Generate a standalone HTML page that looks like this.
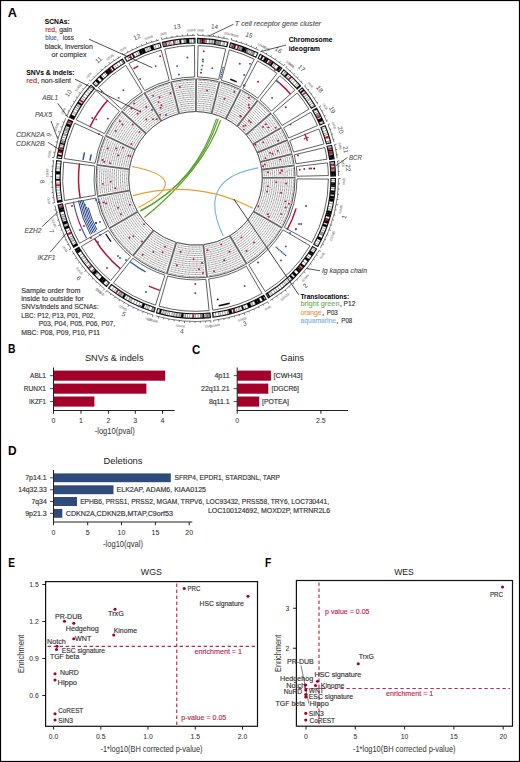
<!DOCTYPE html>
<html><head><meta charset="utf-8"><style>
html,body{margin:0;padding:0;background:#fff;}
svg{display:block;font-family:"Liberation Sans",sans-serif;}
</style></head><body>
<svg width="520" height="762" viewBox="0 0 520 762">
<rect x="0" y="0" width="520" height="762" fill="#fff"/>
<path d="M338.6 178.5A143.1 143.1 0 0 1 320.49 248.07M319.16 250.41A143.1 143.1 0 0 1 270.05 300.55M267.73 301.93A143.1 143.1 0 0 1 213.44 320.37M210.76 320.68A143.1 143.1 0 0 1 155.6 315.82M153.01 315.05A143.1 143.1 0 0 1 106.63 290.56M104.53 288.87A143.1 143.1 0 0 1 72.27 251.15M70.92 248.81A143.1 143.1 0 0 1 54.98 205.46M54.5 202.8A143.1 143.1 0 0 1 53.55 160.3M53.92 157.63A143.1 143.1 0 0 1 65.63 118.31M66.78 115.87A143.1 143.1 0 0 1 88.71 83.15M90.52 81.15A143.1 143.1 0 0 1 120.88 56.3M123.19 54.91A143.1 143.1 0 0 1 159.12 40M161.74 39.34A143.1 143.1 0 0 1 195 35.3M197.69 35.32A143.1 143.1 0 0 1 228.68 39.2M231.3 39.85A143.1 143.1 0 0 1 259.26 50.29M261.66 51.51A143.1 143.1 0 0 1 283.77 65.76M285.87 67.45A143.1 143.1 0 0 1 302.91 83.85M304.67 85.89A143.1 143.1 0 0 1 317.95 104.35M319.32 106.67A143.1 143.1 0 0 1 327.05 122.07M328.09 124.56A143.1 143.1 0 0 1 333.89 141.98M334.55 144.6A143.1 143.1 0 0 1 337.19 158.37M337.54 161.05A143.1 143.1 0 0 1 338.58 175.96" fill="none" stroke="#222" stroke-width="0.6"/>
<path d="M338.6 178.5L340.6 178.5M338.5 183.74L339.9 183.8M338.21 188.98L339.6 189.08M337.72 194.2L339.12 194.36M337.05 199.4L338.44 199.61M336.19 204.58L338.15 204.94M335.13 209.71L336.5 210.02M333.89 214.81L335.24 215.17M332.46 219.86L333.8 220.26M330.85 224.85L332.18 225.3M329.06 229.78L330.93 230.49M327.09 234.64L328.37 235.19M324.94 239.42L326.2 240.02M322.62 244.12L323.86 244.76M319.16 250.41L320.89 251.42M316.44 254.9L317.62 255.65M313.55 259.28L314.71 260.07M310.51 263.55L311.63 264.38M307.31 267.71L308.41 268.58M303.96 271.74L305.48 273.05M300.47 275.66L301.5 276.61M296.84 279.44L297.83 280.43M293.07 283.08L294.02 284.11M289.17 286.59L290.08 287.65M285.14 289.95L286.39 291.51M280.99 293.16L281.83 294.28M276.73 296.21L277.52 297.36M272.36 299.11L273.11 300.29M267.73 301.93L268.74 303.66M263.16 304.5L263.82 305.73M258.49 306.89L259.11 308.15M253.74 309.11L254.31 310.39M248.91 311.16L249.43 312.46M244.01 313.03L244.69 314.91M239.05 314.71L239.47 316.05M234.02 316.22L234.4 317.57M228.95 317.54L229.27 318.9M223.82 318.67L224.1 320.04M218.67 319.61L218.99 321.59M213.48 320.37L213.65 321.76M210.76 320.68L210.97 322.67M205.54 321.15L205.63 322.54M200.3 321.42L200.34 322.82M195.05 321.5L195.05 322.9M189.81 321.39L189.75 322.79M184.57 321.08L184.42 323.08M179.35 320.59L179.2 321.98M174.15 319.9L173.95 321.28M168.98 319.02L168.72 320.4M163.85 317.96L163.54 319.32M158.76 316.7L158.24 318.64M153.01 315.05L152.42 316.96M148.03 313.4L147.57 314.72M143.12 311.57L142.61 312.87M138.28 309.56L137.72 310.84M133.51 307.37L132.9 308.64M128.82 305.02L127.89 306.79M124.23 302.49L123.53 303.7M119.73 299.79L118.99 300.98M115.33 296.94L114.55 298.09M111.04 293.92L110.22 295.05M106.87 290.75L105.63 292.32M104.53 288.87L103.26 290.41M100.55 285.46L99.62 286.51M96.69 281.91L95.72 282.92M92.96 278.22L91.96 279.19M89.37 274.39L88.33 275.33M85.93 270.44L84.4 271.73M82.63 266.36L81.52 267.22M79.48 262.17L78.35 262.99M76.49 257.86L75.32 258.64M73.66 253.45L72.46 254.18M70.92 248.81L69.18 249.8M68.42 244.2L67.18 244.84M66.1 239.5L64.83 240.1M63.95 234.72L62.66 235.27M61.97 229.86L60.67 230.36M60.18 224.93L58.28 225.58M58.56 219.94L57.22 220.35M57.13 214.89L55.78 215.25M55.89 209.8L54.52 210.11M54.5 202.8L52.53 203.14M53.7 197.62L52.31 197.81M53.09 192.41L51.69 192.55M52.67 187.18L51.27 187.27M52.44 181.94L51.04 181.98M52.41 176.7L50.41 176.67M52.57 171.46L51.17 171.39M52.92 166.22L51.52 166.1M53.46 161.01L52.07 160.84M53.92 157.63L51.94 157.34M54.77 152.45L53.39 152.2M55.82 147.31L54.45 147.01M57.05 142.22L55.7 141.86M58.47 137.17L57.13 136.76M60.07 132.17L58.18 131.53M61.86 127.24L60.55 126.74M63.82 122.38L62.53 121.83M66.78 115.87L64.98 115M69.16 111.2L67.93 110.54M71.71 106.61L70.5 105.91M74.42 102.13L73.24 101.38M77.3 97.74L76.14 96.95M80.33 93.46L78.72 92.28M83.52 89.3L82.43 88.43M86.86 85.26L85.8 84.34M90.52 81.15L89.05 79.79M94.15 77.37L93.16 76.38M97.92 73.73L96.97 72.7M101.83 70.22L100.91 69.16M105.85 66.86L104.98 65.77M110 63.65L108.8 62.05M114.26 60.59L113.47 59.44M118.63 57.7L117.88 56.52M123.19 54.91L122.18 53.19M127.77 52.34L127.1 51.11M132.43 49.95L131.81 48.69M137.18 47.72L136.61 46.44M142.01 45.67L141.49 44.38M146.91 43.8L146.23 41.92M151.87 42.11L151.45 40.78M156.9 40.61L156.52 39.26M161.74 39.34L161.27 37.4M166.86 38.2L166.58 36.82M172.01 37.24L171.79 35.86M177.2 36.47L177.02 35.09M182.42 35.9L182.29 34.51M187.65 35.52L187.54 33.52M192.89 35.32L192.86 33.92M197.69 35.32L197.72 33.32M202.93 35.49L203.01 34.1M208.17 35.86L208.29 34.47M213.38 36.42L213.56 35.03M218.57 37.17L218.8 35.79M223.73 38.11L224.13 36.15M231.3 39.85L231.8 37.91M236.36 41.26L236.75 39.91M241.35 42.85L241.8 41.52M246.29 44.62L246.79 43.31M251.16 46.57L251.7 45.28M255.95 48.7L256.8 46.88M261.66 51.51L262.58 49.74M266.26 54.02L266.96 52.8M270.77 56.7L271.51 55.51M275.18 59.54L275.96 58.37M279.48 62.54L280.31 61.4M283.67 65.69L284.91 64.12M285.87 67.45L287.14 65.9M289.88 70.83L290.8 69.78M293.76 74.36L294.72 73.35M297.5 78.04L298.5 77.05M301.11 81.84L302.15 80.9M304.67 85.89L306.2 84.59M307.99 89.95L309.09 89.08M311.16 94.13L312.29 93.31M314.17 98.43L315.33 97.64M317.02 102.83L318.21 102.09M319.32 106.67L321.05 105.67M321.87 111.25L323.11 110.6M324.24 115.93L325.5 115.32M326.45 120.69L327.73 120.13M328.09 124.56L329.94 123.81M329.97 129.45L331.28 128.97M331.67 134.41L333 133.98M333.19 139.43L334.54 139.05M334.55 144.6L336.49 144.12M335.7 149.71L337.07 149.43M336.65 154.87L338.03 154.64M337.54 161.05L339.53 160.8M338.08 166.26L339.48 166.14M338.43 171.5L339.83 171.43" fill="none" stroke="#222" stroke-width="0.6"/>
<g font-size="3.4" fill="#6a6a6a"><text transform="translate(345.1 178.5) rotate(270.04)" x="0.6" text-anchor="end">0MB</text><text transform="translate(342.58 205.77) rotate(280.54)" x="0.6" text-anchor="end">50MB</text><text transform="translate(335.13 232.11) rotate(291.04)" x="0.6" text-anchor="end">100MB</text><text transform="translate(324.78 253.69) rotate(300.21)" x="0.6" text-anchor="end">0MB</text><text transform="translate(308.89 275.98) rotate(310.71)" x="0.6" text-anchor="end">50MB</text><text transform="translate(289.21 295.01) rotate(321.21)" x="0.6" text-anchor="end">100MB</text><text transform="translate(271.01 307.54) rotate(329.68)" x="0.6" text-anchor="end">0MB</text><text transform="translate(246.22 319.14) rotate(340.18)" x="0.6" text-anchor="end">50MB</text><text transform="translate(219.72 326.03) rotate(350.68)" x="0.6" text-anchor="end">100MB</text><text transform="translate(211.45 327.15) rotate(353.88)" x="0.6" text-anchor="end">0MB</text><text transform="translate(184.08 327.56) rotate(364.38)" x="0.6" text-anchor="end">50MB</text><text transform="translate(157.09 322.98) rotate(374.88)" x="0.6" text-anchor="end">100MB</text><text transform="translate(151.08 321.25) rotate(377.27)" x="0.6" text-anchor="end">0MB</text><text transform="translate(125.79 310.77) rotate(387.77)" x="0.6" text-anchor="end">50MB</text><text transform="translate(102.84 295.85) rotate(398.27)" x="0.6" text-anchor="end">100MB</text><text transform="translate(100.4 293.88) rotate(399.47)" x="0.6" text-anchor="end">0MB</text><text transform="translate(80.95 274.62) rotate(409.97)" x="0.6" text-anchor="end">50MB</text><text transform="translate(65.26 252.01) rotate(420.53)" x="0.6" text-anchor="end">0MB</text><text transform="translate(54.03 227.04) rotate(431.03)" x="0.6" text-anchor="end">50MB</text><text transform="translate(48.09 203.91) rotate(440.18)" x="0.6" text-anchor="end">0MB</text><text transform="translate(48.51 176.65) rotate(270.68)" x="-0.6">50MB</text><text transform="translate(50.06 157.06) rotate(278.35)" x="-0.6">0MB</text><text transform="translate(56.38 130.91) rotate(288.85)" x="-0.6">50MB</text><text transform="translate(63.28 114.17) rotate(295.91)" x="-0.6">0MB</text><text transform="translate(77.2 91.15) rotate(306.41)" x="-0.6">50MB</text><text transform="translate(87.66 78.5) rotate(312.81)" x="-0.6">0MB</text><text transform="translate(107.67 60.52) rotate(323.31)" x="-0.6">50MB</text><text transform="translate(121.22 51.55) rotate(329.65)" x="-0.6">0MB</text><text transform="translate(145.58 40.13) rotate(340.15)" x="-0.6">50MB</text><text transform="translate(160.82 35.55) rotate(346.35)" x="-0.6">0MB</text><text transform="translate(187.43 31.62) rotate(356.85)" x="-0.6">50MB</text><text transform="translate(197.75 31.42) rotate(0.88)" x="-0.6">0MB</text><text transform="translate(224.5 34.29) rotate(11.38)" x="-0.6">50MB</text><text transform="translate(232.28 36.08) rotate(14.49)" x="-0.6">0MB</text><text transform="translate(257.6 45.16) rotate(24.99)" x="-0.6">50MB</text><text transform="translate(263.46 48.05) rotate(27.54)" x="-0.6">0MB</text><text transform="translate(286.08 62.62) rotate(38.04)" x="-0.6">50MB</text><text transform="translate(288.34 64.42) rotate(39.16)" x="-0.6">0MB</text><text transform="translate(307.65 83.37) rotate(49.72)" x="-0.6">0MB</text><text transform="translate(322.7 104.71) rotate(59.92)" x="-0.6">0MB</text><text transform="translate(331.7 123.09) rotate(67.9)" x="-0.6">0MB</text><text transform="translate(338.34 143.67) rotate(76.34)" x="-0.6">0MB</text><text transform="translate(341.42 160.57) rotate(83.03)" x="-0.6">0MB</text></g>
<g font-size="6.4" fill="#4a4a4a"><text transform="translate(346.08 217.59) rotate(284.59)" text-anchor="middle">1</text><text transform="translate(306.65 287.29) rotate(314.41)" text-anchor="middle">2</text><text transform="translate(245.54 325.73) rotate(341.24)" text-anchor="middle">3</text><text transform="translate(181.84 333.4) rotate(365.04)" text-anchor="middle">4</text><text transform="translate(122.86 316) rotate(387.83)" text-anchor="middle">5</text><text transform="translate(77.26 279.54) rotate(409.46)" text-anchor="middle">6</text><text transform="translate(49.46 232.09) rotate(429.81)" text-anchor="middle">7</text><text transform="translate(39.94 181.87) rotate(448.72)" text-anchor="middle">8</text><text transform="translate(50.98 135.35) rotate(286.59)" text-anchor="middle">9</text><text transform="translate(70.22 94.47) rotate(303.82)" text-anchor="middle">10</text><text transform="translate(99.97 61.72) rotate(320.69)" text-anchor="middle">11</text><text transform="translate(137.7 39.12) rotate(337.46)" text-anchor="middle">12</text><text transform="translate(177.32 28.7) rotate(353.08)" text-anchor="middle">13</text><text transform="translate(214.25 28.77) rotate(7.14)" text-anchor="middle">14</text><text transform="translate(248.24 37.12) rotate(20.47)" text-anchor="middle">15</text><text transform="translate(277.21 51.66) rotate(32.81)" text-anchor="middle">16</text><text transform="translate(300.07 69.75) rotate(43.9)" text-anchor="middle">17</text><text transform="translate(317.93 90.36) rotate(54.28)" text-anchor="middle">18</text><text transform="translate(330.3 110.8) rotate(63.37)" text-anchor="middle">19</text><text transform="translate(338.57 130.74) rotate(71.58)" text-anchor="middle">20</text><text transform="translate(343.6 150) rotate(79.15)" text-anchor="middle">21</text><text transform="translate(345.94 167.96) rotate(86.03)" text-anchor="middle">22</text></g>
<path d="M335.44 182.5A140 140 0 0 1 335.39 183.98L330.79 183.79A135.4 135.4 0 0 0 330.84 182.37Z" fill="#000"/><path d="M335.39 183.98A140 140 0 0 1 335.32 185.49L330.73 185.26A135.4 135.4 0 0 0 330.79 183.79Z" fill="#000"/><path d="M335.32 185.49A140 140 0 0 1 335.24 186.94L330.65 186.66A135.4 135.4 0 0 0 330.73 185.26Z" fill="#000"/><path d="M334.95 190.81A140 140 0 0 1 334.78 192.58L330.2 192.12A135.4 135.4 0 0 0 330.37 190.4Z" fill="#000"/><path d="M334.78 192.58A140 140 0 0 1 334.55 194.69L329.98 194.16A135.4 135.4 0 0 0 330.2 192.12Z" fill="#000"/><path d="M334.36 196.25A140 140 0 0 1 334.02 198.73L329.47 198.06A135.4 135.4 0 0 0 329.79 195.66Z" fill="#000"/><path d="M334.02 198.73A140 140 0 0 1 333.54 201.77L329 201A135.4 135.4 0 0 0 329.47 198.06Z" fill="#000"/><path d="M331.57 211.36A140 140 0 0 1 331 213.62L326.55 212.46A135.4 135.4 0 0 0 327.1 210.27Z" fill="#000"/><path d="M331 213.62A140 140 0 0 1 330.5 215.46L326.07 214.25A135.4 135.4 0 0 0 326.55 212.46Z" fill="#000"/><path d="M330.5 215.46A140 140 0 0 1 330.05 217.08L325.63 215.81A135.4 135.4 0 0 0 326.07 214.25Z" fill="#000"/><path d="M329.37 219.37A140 140 0 0 1 328.76 221.3L324.39 219.89A135.4 135.4 0 0 0 324.97 218.02Z" fill="#000"/><path d="M328.76 221.3A140 140 0 0 1 327.93 223.82L323.58 222.32A135.4 135.4 0 0 0 324.39 219.89Z" fill="#000"/><path d="M327.45 225.19A140 140 0 0 1 326.68 227.31L322.37 225.7A135.4 135.4 0 0 0 323.11 223.65Z" fill="#000"/><path d="M324.33 233.19A140 140 0 0 1 323.21 235.75L319.02 233.87A135.4 135.4 0 0 0 320.1 231.39Z" fill="#999"/><path d="M322.05 238.27A140 140 0 0 1 321.01 240.43L316.89 238.39A135.4 135.4 0 0 0 317.89 236.3Z" fill="#000"/><path d="M313.98 252.98A140 140 0 0 1 312.84 254.77L308.98 252.26A135.4 135.4 0 0 0 310.09 250.53Z" fill="#000"/><path d="M312.84 254.77A140 140 0 0 1 312.02 256.01L308.19 253.46A135.4 135.4 0 0 0 308.98 252.26Z" fill="#000"/><path d="M309.55 259.6A140 140 0 0 1 308.12 261.57L304.42 258.84A135.4 135.4 0 0 0 305.8 256.93Z" fill="#000"/><path d="M304.65 266.07A140 140 0 0 1 303.25 267.79L299.71 264.85A135.4 135.4 0 0 0 301.06 263.19Z" fill="#000"/><path d="M303.25 267.79A140 140 0 0 1 302.31 268.91L298.8 265.94A135.4 135.4 0 0 0 299.71 264.85Z" fill="#999"/><path d="M302.31 268.91A140 140 0 0 1 300.59 270.9L297.14 267.86A135.4 135.4 0 0 0 298.8 265.94Z" fill="#000"/><path d="M300.59 270.9A140 140 0 0 1 298.99 272.69L295.59 269.59A135.4 135.4 0 0 0 297.14 267.86Z" fill="#000"/><path d="M297.05 274.78A140 140 0 0 1 295.2 276.69L291.92 273.46A135.4 135.4 0 0 0 293.71 271.61Z" fill="#000"/><path d="M293.8 278.09A140 140 0 0 1 292.37 279.48L289.18 276.16A135.4 135.4 0 0 0 290.57 274.81Z" fill="#000"/><path d="M270.34 296.72A140 140 0 0 1 269.18 297.44L266.76 293.53A135.4 135.4 0 0 0 267.88 292.83Z" fill="#000"/><path d="M265 299.93A140 140 0 0 1 262.97 301.07L260.75 297.04A135.4 135.4 0 0 0 262.71 295.94Z" fill="#000"/><path d="M260.88 302.2A140 140 0 0 1 258.56 303.4L256.48 299.29A135.4 135.4 0 0 0 258.73 298.13Z" fill="#000"/><path d="M258.56 303.4A140 140 0 0 1 255.79 304.75L253.81 300.6A135.4 135.4 0 0 0 256.48 299.29Z" fill="#000"/><path d="M253.45 305.85A140 140 0 0 1 251.45 306.73L249.61 302.52A135.4 135.4 0 0 0 251.54 301.66Z" fill="#ccc"/><path d="M251.45 306.73A140 140 0 0 1 248.61 307.94L246.86 303.68A135.4 135.4 0 0 0 249.61 302.52Z" fill="#000"/><path d="M244.06 309.71A140 140 0 0 1 242.62 310.23L241.07 305.9A135.4 135.4 0 0 0 242.47 305.39Z" fill="#000"/><path d="M235.34 312.61A140 140 0 0 1 233.87 313.04L232.61 308.62A135.4 135.4 0 0 0 234.03 308.2Z" fill="#000"/><path d="M232.31 313.48A140 140 0 0 1 229.32 314.25L228.21 309.79A135.4 135.4 0 0 0 231.1 309.04Z" fill="#000"/><path d="M210.43 317.6A140 140 0 0 1 207.72 317.87L207.32 313.28A135.4 135.4 0 0 0 209.94 313.03Z" fill="#999"/><path d="M207.72 317.87A140 140 0 0 1 205.9 318.01L205.56 313.43A135.4 135.4 0 0 0 207.32 313.28Z" fill="#999"/><path d="M204.27 318.13A140 140 0 0 1 202.55 318.22L202.32 313.63A135.4 135.4 0 0 0 203.98 313.53Z" fill="#000"/><path d="M202.55 318.22A140 140 0 0 1 200.54 318.31L200.38 313.71A135.4 135.4 0 0 0 202.32 313.63Z" fill="#999"/><path d="M185.43 318.04A140 140 0 0 1 183.12 317.85L183.53 313.27A135.4 135.4 0 0 0 185.76 313.45Z" fill="#ccc"/><path d="M183.12 317.85A140 140 0 0 1 180.87 317.63L181.35 313.06A135.4 135.4 0 0 0 183.53 313.27Z" fill="#000"/><path d="M180.87 317.63A140 140 0 0 1 179.12 317.44L179.66 312.87A135.4 135.4 0 0 0 181.35 313.06Z" fill="#ccc"/><path d="M179.12 317.44A140 140 0 0 1 176.36 317.09L176.99 312.53A135.4 135.4 0 0 0 179.66 312.87Z" fill="#ccc"/><path d="M176.36 317.09A140 140 0 0 1 173.48 316.66L174.21 312.12A135.4 135.4 0 0 0 176.99 312.53Z" fill="#ccc"/><path d="M165.44 315.13A140 140 0 0 1 162.36 314.42L163.45 309.95A135.4 135.4 0 0 0 166.43 310.64Z" fill="#ccc"/><path d="M160.56 313.97A140 140 0 0 1 158.92 313.54L160.12 309.1A135.4 135.4 0 0 0 161.71 309.52Z" fill="#000"/><path d="M153.93 312.09A140 140 0 0 1 151.24 311.22L152.7 306.86A135.4 135.4 0 0 0 155.3 307.69Z" fill="#999"/><path d="M143.39 308.34A140 140 0 0 1 141.09 307.39L142.88 303.16A135.4 135.4 0 0 0 145.1 304.07Z" fill="#000"/><path d="M130.62 302.46A140 140 0 0 1 127.97 301.03L130.19 297.01A135.4 135.4 0 0 0 132.75 298.38Z" fill="#ccc"/><path d="M123.74 298.61A140 140 0 0 1 121.92 297.5L124.33 293.59A135.4 135.4 0 0 0 126.1 294.66Z" fill="#000"/><path d="M121.92 297.5A140 140 0 0 1 120.26 296.46L122.73 292.58A135.4 135.4 0 0 0 124.33 293.59Z" fill="#ccc"/><path d="M120.26 296.46A140 140 0 0 1 117.68 294.78L120.24 290.96A135.4 135.4 0 0 0 122.73 292.58Z" fill="#999"/><path d="M103.12 283.6A140 140 0 0 1 101.28 281.95L104.38 278.55A135.4 135.4 0 0 0 106.16 280.14Z" fill="#000"/><path d="M101.28 281.95A140 140 0 0 1 98.98 279.81L102.16 276.48A135.4 135.4 0 0 0 104.38 278.55Z" fill="#000"/><path d="M95.14 276.01A140 140 0 0 1 94.18 275.01L97.51 271.84A135.4 135.4 0 0 0 98.44 272.8Z" fill="#ccc"/><path d="M94.18 275.01A140 140 0 0 1 92.05 272.73L95.45 269.63A135.4 135.4 0 0 0 97.51 271.84Z" fill="#000"/><path d="M92.05 272.73A140 140 0 0 1 91.02 271.59L94.45 268.53A135.4 135.4 0 0 0 95.45 269.63Z" fill="#999"/><path d="M77.3 253.43A140 140 0 0 1 75.73 250.89L79.66 248.51A135.4 135.4 0 0 0 81.19 250.96Z" fill="#000"/><path d="M75.73 250.89A140 140 0 0 1 74.94 249.57L78.9 247.23A135.4 135.4 0 0 0 79.66 248.51Z" fill="#000"/><path d="M73.62 247.29A140 140 0 0 1 72.59 245.44L76.63 243.23A135.4 135.4 0 0 0 77.62 245.02Z" fill="#000"/><path d="M70.78 242A140 140 0 0 1 69.47 239.36L73.61 237.36A135.4 135.4 0 0 0 74.88 239.91Z" fill="#ccc"/><path d="M65.09 229.33A140 140 0 0 1 64.17 226.91L68.49 225.31A135.4 135.4 0 0 0 69.38 227.66Z" fill="#000"/><path d="M64.17 226.91A140 140 0 0 1 63.37 224.68L67.71 223.16A135.4 135.4 0 0 0 68.49 225.31Z" fill="#ccc"/><path d="M63.37 224.68A140 140 0 0 1 62.48 222.06L66.85 220.63A135.4 135.4 0 0 0 67.71 223.16Z" fill="#000"/><path d="M62.04 220.69A140 140 0 0 1 61.49 218.92L65.89 217.59A135.4 135.4 0 0 0 66.42 219.3Z" fill="#ccc"/><path d="M61.06 217.46A140 140 0 0 1 60.42 215.17L64.85 213.96A135.4 135.4 0 0 0 65.48 216.17Z" fill="#ccc"/><path d="M59.66 212.29A140 140 0 0 1 59.16 210.19L63.64 209.15A135.4 135.4 0 0 0 64.13 211.17Z" fill="#000"/><path d="M59.16 210.19A140 140 0 0 1 58.48 207.14L62.98 206.19A135.4 135.4 0 0 0 63.64 209.15Z" fill="#000"/><path d="M58.48 207.14A140 140 0 0 1 58.03 204.9L62.55 204.03A135.4 135.4 0 0 0 62.98 206.19Z" fill="#999"/><path d="M57.55 202.27A140 140 0 0 1 57.25 200.45L61.79 199.72A135.4 135.4 0 0 0 62.08 201.49Z" fill="#000"/><path d="M55.52 180.56A140 140 0 0 1 55.5 179.09L60.1 179.06A135.4 135.4 0 0 0 60.12 180.49Z" fill="#000"/><path d="M55.56 174.2A140 140 0 0 1 55.69 171.14L60.28 171.38A135.4 135.4 0 0 0 60.16 174.34Z" fill="#000"/><path d="M57.3 156.03A140 140 0 0 1 57.57 154.41L62.1 155.2A135.4 135.4 0 0 0 61.84 156.76Z" fill="#000"/><path d="M58.09 151.59A140 140 0 0 1 58.62 149L63.12 149.97A135.4 135.4 0 0 0 62.61 152.47Z" fill="#000"/><path d="M59.83 143.84A140 140 0 0 1 60.18 142.51L64.63 143.69A135.4 135.4 0 0 0 64.29 144.98Z" fill="#000"/><path d="M60.18 142.51A140 140 0 0 1 60.76 140.4L65.18 141.65A135.4 135.4 0 0 0 64.63 143.69Z" fill="#999"/><path d="M62.49 134.71A140 140 0 0 1 62.98 133.24L67.34 134.72A135.4 135.4 0 0 0 66.86 136.15Z" fill="#ccc"/><path d="M64.07 130.17A140 140 0 0 1 64.57 128.84L68.87 130.47A135.4 135.4 0 0 0 68.39 131.75Z" fill="#ccc"/><path d="M64.57 128.84A140 140 0 0 1 65.17 127.27L69.45 128.95A135.4 135.4 0 0 0 68.87 130.47Z" fill="#ccc"/><path d="M65.76 125.8A140 140 0 0 1 66.87 123.13L71.1 124.94A135.4 135.4 0 0 0 70.02 127.53Z" fill="#000"/><path d="M68.02 120.53A140 140 0 0 1 68.44 119.61L72.62 121.54A135.4 135.4 0 0 0 72.21 122.43Z" fill="#000"/><path d="M69.57 117.23A140 140 0 0 1 70.92 114.52L75.02 116.62A135.4 135.4 0 0 0 73.71 119.24Z" fill="#000"/><path d="M76.08 105.34A140 140 0 0 1 77.4 103.21L81.28 105.68A135.4 135.4 0 0 0 80 107.74Z" fill="#ccc"/><path d="M77.4 103.21A140 140 0 0 1 78.39 101.68L82.24 104.2A135.4 135.4 0 0 0 81.28 105.68Z" fill="#000"/><path d="M95.23 80.7A140 140 0 0 1 96.99 78.92L100.23 82.19A135.4 135.4 0 0 0 98.53 83.91Z" fill="#000"/><path d="M98.95 77.02A140 140 0 0 1 100.53 75.54L103.65 78.92A135.4 135.4 0 0 0 102.12 80.35Z" fill="#000"/><path d="M104.94 71.63A140 140 0 0 1 107.01 69.91L109.92 73.48A135.4 135.4 0 0 0 107.92 75.14Z" fill="#000"/><path d="M107.01 69.91A140 140 0 0 1 109.46 67.96L112.29 71.59A135.4 135.4 0 0 0 109.92 73.48Z" fill="#000"/><path d="M111.22 66.61A140 140 0 0 1 112.45 65.69L115.18 69.39A135.4 135.4 0 0 0 113.99 70.28Z" fill="#000"/><path d="M120.88 59.94A140 140 0 0 1 122.5 58.94L124.89 62.87A135.4 135.4 0 0 0 123.34 63.83Z" fill="#999"/><path d="M131.69 53.79A140 140 0 0 1 132.92 53.17L134.97 57.28A135.4 135.4 0 0 0 133.79 57.88Z" fill="#000"/><path d="M138.64 50.46A140 140 0 0 1 141.34 49.3L143.12 53.54A135.4 135.4 0 0 0 140.51 54.67Z" fill="#000"/><path d="M141.34 49.3A140 140 0 0 1 144.24 48.12L145.92 52.4A135.4 135.4 0 0 0 143.12 53.54Z" fill="#000"/><path d="M150.05 45.98A140 140 0 0 1 153 45.01L154.4 49.39A135.4 135.4 0 0 0 151.54 50.33Z" fill="#000"/><path d="M167.46 41.24A140 140 0 0 1 169.22 40.89L170.08 45.41A135.4 135.4 0 0 0 168.38 45.74Z" fill="#ccc"/><path d="M179.34 39.34A140 140 0 0 1 180.83 39.17L181.31 43.75A135.4 135.4 0 0 0 179.87 43.91Z" fill="#000"/><path d="M183.72 38.9A140 140 0 0 1 186.26 38.71L186.57 43.29A135.4 135.4 0 0 0 184.11 43.48Z" fill="#999"/><path d="M186.26 38.71A140 140 0 0 1 189.04 38.55L189.25 43.14A135.4 135.4 0 0 0 186.57 43.29Z" fill="#000"/><path d="M193.76 38.41A140 140 0 0 1 195.01 38.4L195.02 43A135.4 135.4 0 0 0 193.82 43.01Z" fill="#999"/><path d="M200.12 38.48A140 140 0 0 1 201.54 38.53L201.35 43.13A135.4 135.4 0 0 0 199.97 43.07Z" fill="#999"/><path d="M201.54 38.53A140 140 0 0 1 204.52 38.69L204.22 43.28A135.4 135.4 0 0 0 201.35 43.13Z" fill="#000"/><path d="M204.52 38.69A140 140 0 0 1 206.64 38.84L206.28 43.43A135.4 135.4 0 0 0 204.22 43.28Z" fill="#999"/><path d="M209.46 39.1A140 140 0 0 1 212.46 39.43L211.9 44A135.4 135.4 0 0 0 209.01 43.68Z" fill="#ccc"/><path d="M212.46 39.43A140 140 0 0 1 214.71 39.72L214.08 44.28A135.4 135.4 0 0 0 211.9 44Z" fill="#ccc"/><path d="M214.71 39.72A140 140 0 0 1 216.07 39.92L215.39 44.47A135.4 135.4 0 0 0 214.08 44.28Z" fill="#000"/><path d="M216.07 39.92A140 140 0 0 1 218.45 40.29L217.7 44.83A135.4 135.4 0 0 0 215.39 44.47Z" fill="#999"/><path d="M218.45 40.29A140 140 0 0 1 221.01 40.74L220.17 45.27A135.4 135.4 0 0 0 217.7 44.83Z" fill="#999"/><path d="M232.49 43.38A140 140 0 0 1 234.77 44.02L233.48 48.44A135.4 135.4 0 0 0 231.28 47.81Z" fill="#000"/><path d="M234.77 44.02A140 140 0 0 1 236.09 44.41L234.76 48.82A135.4 135.4 0 0 0 233.48 48.44Z" fill="#000"/><path d="M240.3 45.76A140 140 0 0 1 242.95 46.69L241.39 51.01A135.4 135.4 0 0 0 238.83 50.12Z" fill="#999"/><path d="M242.95 46.69A140 140 0 0 1 245.81 47.75L244.16 52.04A135.4 135.4 0 0 0 241.39 51.01Z" fill="#000"/><path d="M245.81 47.75A140 140 0 0 1 247.22 48.3L245.52 52.58A135.4 135.4 0 0 0 244.16 52.04Z" fill="#000"/><path d="M247.22 48.3A140 140 0 0 1 248.58 48.85L246.83 53.11A135.4 135.4 0 0 0 245.52 52.58Z" fill="#999"/><path d="M248.58 48.85A140 140 0 0 1 250.62 49.71L248.81 53.93A135.4 135.4 0 0 0 246.83 53.11Z" fill="#ccc"/><path d="M251.97 50.3A140 140 0 0 1 253.59 51.02L251.68 55.21A135.4 135.4 0 0 0 250.12 54.5Z" fill="#ccc"/><path d="M253.59 51.02A140 140 0 0 1 255.15 51.75L253.19 55.91A135.4 135.4 0 0 0 251.68 55.21Z" fill="#999"/><path d="M262.21 55.32A140 140 0 0 1 263.51 56.03L261.28 60.05A135.4 135.4 0 0 0 260.02 59.36Z" fill="#000"/><path d="M265.14 56.95A140 140 0 0 1 267.28 58.2L264.92 62.15A135.4 135.4 0 0 0 262.85 60.94Z" fill="#000"/><path d="M267.28 58.2A140 140 0 0 1 268.74 59.08L266.33 63A135.4 135.4 0 0 0 264.92 62.15Z" fill="#000"/><path d="M270.11 59.94A140 140 0 0 1 272.24 61.31L269.72 65.16A135.4 135.4 0 0 0 267.66 63.83Z" fill="#999"/><path d="M272.24 61.31A140 140 0 0 1 273.83 62.36L271.25 66.17A135.4 135.4 0 0 0 269.72 65.16Z" fill="#000"/><path d="M278.86 65.92A140 140 0 0 1 280.95 67.5L278.14 71.14A135.4 135.4 0 0 0 276.12 69.62Z" fill="#000"/><path d="M280.95 67.5A140 140 0 0 1 281.85 68.2L279.02 71.83A135.4 135.4 0 0 0 278.14 71.14Z" fill="#999"/><path d="M285.68 71.31A140 140 0 0 1 287.35 72.74L284.33 76.21A135.4 135.4 0 0 0 282.72 74.83Z" fill="#ccc"/><path d="M287.35 72.74A140 140 0 0 1 288.52 73.77L285.47 77.21A135.4 135.4 0 0 0 284.33 76.21Z" fill="#000"/><path d="M299.76 84.96A140 140 0 0 1 300.58 85.89L297.13 88.93A135.4 135.4 0 0 0 296.33 88.03Z" fill="#000"/><path d="M303.48 89.29A140 140 0 0 1 304.48 90.52L300.9 93.41A135.4 135.4 0 0 0 299.93 92.22Z" fill="#000"/><path d="M316.64 108.22A140 140 0 0 1 317.31 109.39L313.31 111.66A135.4 135.4 0 0 0 312.66 110.53Z" fill="#ccc"/><path d="M319.01 112.48A140 140 0 0 1 320.24 114.83L316.14 116.92A135.4 135.4 0 0 0 314.95 114.65Z" fill="#999"/><path d="M321.72 117.83A140 140 0 0 1 323.06 120.7L318.87 122.6A135.4 135.4 0 0 0 317.57 119.82Z" fill="#000"/><path d="M330.28 140.53A140 140 0 0 1 330.89 142.77L326.44 143.94A135.4 135.4 0 0 0 325.85 141.78Z" fill="#ccc"/><path d="M332.16 148A140 140 0 0 1 332.78 150.95L328.27 151.85A135.4 135.4 0 0 0 327.67 149Z" fill="#000"/><path d="M332.78 150.95A140 140 0 0 1 333.22 153.26L328.7 154.08A135.4 135.4 0 0 0 328.27 151.85Z" fill="#999"/><path d="M333.22 153.26A140 140 0 0 1 333.48 154.73L328.95 155.5A135.4 135.4 0 0 0 328.7 154.08Z" fill="#999"/><path d="M333.48 154.73A140 140 0 0 1 333.82 156.8L329.28 157.51A135.4 135.4 0 0 0 328.95 155.5Z" fill="#000"/><path d="M333.82 156.8A140 140 0 0 1 334.12 158.81L329.57 159.45A135.4 135.4 0 0 0 329.28 157.51Z" fill="#000"/><path d="M334.79 164.34A140 140 0 0 1 334.93 165.77L330.35 166.18A135.4 135.4 0 0 0 330.22 164.8Z" fill="#000"/><path d="M335.21 169.44A140 140 0 0 1 335.32 171.32L330.73 171.56A135.4 135.4 0 0 0 330.62 169.73Z" fill="#999"/><path d="M335.32 171.32A140 140 0 0 1 335.43 174.02L330.83 174.16A135.4 135.4 0 0 0 330.73 171.56Z" fill="#000"/><path d="M335.43 174.02A140 140 0 0 1 335.48 175.84L330.88 175.92A135.4 135.4 0 0 0 330.83 174.16Z" fill="#000"/><path d="M162.47 42.35A140 140 0 0 1 166.52 41.43L167.47 45.93A135.4 135.4 0 0 0 163.56 46.82Z" fill="#fff"/><path d="M163.02 42.53A139.7 139.7 0 0 1 164.92 42.09L165.79 45.99A135.7 135.7 0 0 0 163.95 46.42Z" fill="#aab2dc"/><path d="M164.92 42.09A139.7 139.7 0 0 1 166.35 41.78L167.18 45.69A135.7 135.7 0 0 0 165.79 45.99Z" fill="#c8102e"/><path d="M197.64 38.42A140 140 0 0 1 201.8 38.54L201.59 43.14A135.4 135.4 0 0 0 197.57 43.02Z" fill="#fff"/><path d="M198.13 38.72A139.7 139.7 0 0 1 200.08 38.78L199.95 42.77A135.7 135.7 0 0 0 198.05 42.72Z" fill="#aab2dc"/><path d="M200.08 38.78A139.7 139.7 0 0 1 201.54 38.83L201.37 42.83A135.7 135.7 0 0 0 199.95 42.77Z" fill="#c8102e"/><path d="M230.53 42.85A140 140 0 0 1 234.53 43.95L233.25 48.37A135.4 135.4 0 0 0 229.38 47.31Z" fill="#fff"/><path d="M230.92 43.27A139.7 139.7 0 0 1 232.81 43.77L231.74 47.63A135.7 135.7 0 0 0 229.91 47.14Z" fill="#aab2dc"/><path d="M232.81 43.77A139.7 139.7 0 0 1 234.21 44.17L233.11 48.01A135.7 135.7 0 0 0 231.74 47.63Z" fill="#c8102e"/><path d="M331.54 145.33A140 140 0 0 1 332.46 149.38L327.96 150.33A135.4 135.4 0 0 0 327.07 146.42Z" fill="#fff"/><path d="M331.36 145.87A139.7 139.7 0 0 1 331.8 147.77L327.9 148.65A135.7 135.7 0 0 0 327.47 146.8Z" fill="#aab2dc"/><path d="M331.8 147.77A139.7 139.7 0 0 1 332.11 149.2L328.2 150.04A135.7 135.7 0 0 0 327.9 148.65Z" fill="#c8102e"/><path d="M334.47 161.42A140 140 0 0 1 334.91 165.55L330.33 165.97A135.4 135.4 0 0 0 329.9 161.98Z" fill="#fff"/><path d="M334.23 161.94A139.7 139.7 0 0 1 334.44 163.88L330.47 164.3A135.7 135.7 0 0 0 330.26 162.41Z" fill="#aab2dc"/><path d="M334.44 163.88A139.7 139.7 0 0 1 334.59 165.34L330.61 165.71A135.7 135.7 0 0 0 330.47 164.3Z" fill="#c8102e"/>
<path d="M330.89 180.37L335.49 180.44M330.84 182.37L335.44 182.5M330.79 183.79L335.39 183.98M330.73 185.26L335.32 185.49M330.65 186.66L335.24 186.94M330.53 188.34L335.12 188.67M330.37 190.4L334.95 190.81M330.2 192.12L334.78 192.58M329.98 194.16L334.55 194.69M329.79 195.66L334.36 196.25M329.47 198.06L334.02 198.73M329 201L333.54 201.77M328.59 203.3L333.11 204.15M328 206.27L332.5 207.22M327.51 208.51L331.99 209.53M327.1 210.27L331.57 211.36M326.55 212.46L331 213.62M326.07 214.25L330.5 215.46M325.63 215.81L330.05 217.08M324.97 218.02L329.37 219.37M324.39 219.89L328.76 221.3M323.58 222.32L327.93 223.82M323.11 223.65L327.45 225.19M322.37 225.7L326.68 227.31M321.64 227.62L325.92 229.29M320.85 229.6L325.11 231.33M320.1 231.39L324.33 233.19M319.02 233.87L323.21 235.75M317.89 236.3L322.05 238.27M316.89 238.39L321.01 240.43M315.91 240.33L320 242.44M314.7 242.63L318.75 244.81M311.74 247.84L315.69 250.2M310.91 249.2L314.83 251.61M310.09 250.53L313.98 252.98M308.98 252.26L312.84 254.77M308.19 253.46L312.02 256.01M306.89 255.37L310.68 257.99M305.8 256.93L309.55 259.6M304.42 258.84L308.12 261.57M302.78 261L306.43 263.81M301.06 263.19L304.65 266.07M299.71 264.85L303.25 267.79M298.8 265.94L302.31 268.91M297.14 267.86L300.59 270.9M295.59 269.59L298.99 272.69M293.71 271.61L297.05 274.78M291.92 273.46L295.2 276.69M290.57 274.81L293.8 278.09M289.18 276.16L292.37 279.48M288.09 277.19L291.24 280.55M286.85 278.34L289.96 281.73M285.72 279.36L288.78 282.79M284.21 280.69L287.23 284.16M283.12 281.63L286.1 285.14M281.58 282.92L284.5 286.47M279.34 284.72L282.19 288.33M277.1 286.45L279.88 290.12M275.05 287.97L277.76 291.69M273.01 289.42L275.64 293.19M270.53 291.11L273.08 294.94M269.32 291.9L271.83 295.76M267.88 292.83L270.34 296.72M266.76 293.53L269.18 297.44M262.71 295.94L265 299.93M260.75 297.04L262.97 301.07M258.73 298.13L260.88 302.2M256.48 299.29L258.56 303.4M253.81 300.6L255.79 304.75M251.54 301.66L253.45 305.85M249.61 302.52L251.45 306.73M246.86 303.68L248.61 307.94M244.34 304.68L246 308.97M242.47 305.39L244.06 309.71M241.07 305.9L242.62 310.23M239.18 306.56L240.66 310.92M237.83 307.01L239.27 311.38M235.85 307.65L237.22 312.04M234.03 308.2L235.34 312.61M232.61 308.62L233.87 313.04M231.1 309.04L232.31 313.48M228.21 309.79L229.32 314.25M226.9 310.11L227.97 314.58M224.58 310.64L225.57 315.13M222.21 311.14L223.11 315.65M219.88 311.59L220.71 316.11M218.39 311.85L219.16 316.39M215.36 312.33L216.04 316.89M213.23 312.63L213.84 317.19M207.32 313.28L207.72 317.87M205.56 313.43L205.9 318.01M203.98 313.53L204.27 318.13M202.32 313.63L202.55 318.22M200.38 313.71L200.54 318.31M198.12 313.77L198.2 318.37M195.47 313.8L195.47 318.4M192.44 313.77L192.33 318.36M189.91 313.68L189.72 318.28M187.69 313.57L187.43 318.17M185.76 313.45L185.43 318.04M183.53 313.27L183.12 317.85M181.35 313.06L180.87 317.63M179.66 312.87L179.12 317.44M176.99 312.53L176.36 317.09M174.21 312.12L173.48 316.66M172.51 311.83L171.73 316.37M169.94 311.37L169.07 315.88M168.32 311.04L167.39 315.55M166.43 310.64L165.44 315.13M163.45 309.95L162.36 314.42M161.71 309.52L160.56 313.97M160.12 309.1L158.92 313.54M152.7 306.86L151.24 311.22M149.82 305.86L148.26 310.19M148.46 305.37L146.86 309.68M146.87 304.76L145.22 309.06M145.1 304.07L143.39 308.34M142.88 303.16L141.09 307.39M140.32 302.04L138.44 306.25M137.67 300.83L135.71 304.99M135.23 299.64L133.18 303.76M132.75 298.38L130.62 302.46M130.19 297.01L127.97 301.03M127.95 295.75L125.66 299.74M126.1 294.66L123.74 298.61M124.33 293.59L121.92 297.5M122.73 292.58L120.26 296.46M120.24 290.96L117.68 294.78M118.59 289.83L115.97 293.62M116.45 288.33L113.76 292.06M114.36 286.8L111.61 290.48M111.93 284.94L109.09 288.55M108.22 281.92L105.26 285.44M106.16 280.14L103.12 283.6M104.38 278.55L101.28 281.95M102.16 276.48L98.98 279.81M100.03 274.42L96.79 277.68M98.44 272.8L95.14 276.01M97.51 271.84L94.18 275.01M95.45 269.63L92.05 272.73M94.45 268.53L91.02 271.59M92.51 266.3L89.01 269.29M90.56 263.96L86.99 266.87M88.84 261.8L85.21 264.63M88.01 260.73L84.36 263.53M86.91 259.28L83.22 262.03M85.35 257.14L81.61 259.81M84.34 255.7L80.56 258.33M82.77 253.4L78.94 255.95M81.19 250.96L77.3 253.43M79.66 248.51L75.73 250.89M76.63 243.23L72.59 245.44M75.91 241.89L71.84 244.04M74.88 239.91L70.78 242M73.61 237.36L69.47 239.36M72.91 235.89L68.75 237.85M71.8 233.46L67.6 235.33M71.16 231.99L66.93 233.81M70.23 229.78L65.97 231.53M69.38 227.66L65.09 229.33M68.49 225.31L64.17 226.91M67.71 223.16L63.37 224.68M66.85 220.63L62.48 222.06M66.42 219.3L62.04 220.69M65.89 217.59L61.49 218.92M65.48 216.17L61.06 217.46M64.85 213.96L60.42 215.17M64.13 211.17L59.66 212.29M63.64 209.15L59.16 210.19M62.98 206.19L58.48 207.14M61.79 199.72L57.25 200.45M61.45 197.5L56.9 198.15M61.16 195.32L56.6 195.9M60.87 192.8L56.29 193.29M60.59 189.88L56 190.27M60.38 187.1L55.79 187.39M60.26 185.06L55.67 185.29M60.18 182.98L55.58 183.14M60.12 180.49L55.52 180.56M60.1 179.06L55.5 179.09M60.11 177.23L55.51 177.19M60.16 174.34L55.56 174.2M60.28 171.38L55.69 171.14M60.43 168.91L55.84 168.59M60.57 167.17L55.98 166.79M60.85 164.17L56.28 163.68M61.84 156.76L57.3 156.03M62.1 155.2L57.57 154.41M62.61 152.47L58.09 151.59M63.12 149.97L58.62 149M63.56 148L59.07 146.97M63.94 146.4L59.47 145.31M64.29 144.98L59.83 143.84M64.63 143.69L60.18 142.51M65.18 141.65L60.76 140.4M65.55 140.37L61.14 139.08M66.19 138.25L61.8 136.88M66.86 136.15L62.49 134.71M67.34 134.72L62.98 133.24M67.9 133.11L63.56 131.57M68.39 131.75L64.07 130.17M68.87 130.47L64.57 128.84M69.45 128.95L65.17 127.27M70.02 127.53L65.76 125.8M71.1 124.94L66.87 123.13M72.21 122.43L68.02 120.53M75.02 116.62L70.92 114.52M76.03 114.69L71.97 112.52M76.72 113.4L72.68 111.2M78.05 111.03L74.06 108.75M79.08 109.26L75.13 106.91M80 107.74L76.08 105.34M81.28 105.68L77.4 103.21M82.24 104.2L78.39 101.68M83.81 101.86L80.01 99.26M84.82 100.41L81.06 97.76M86.04 98.7L82.32 95.99M87.87 96.25L84.22 93.45M89.68 93.93L86.09 91.06M91.2 92.06L87.65 89.13M92.64 90.35L89.14 87.36M97.38 85.1L94.04 81.93M98.53 83.91L95.23 80.7M100.23 82.19L96.99 78.92M102.12 80.35L98.95 77.02M103.65 78.92L100.53 75.54M104.84 77.83L101.76 74.41M106.88 76.03L103.87 72.55M107.92 75.14L104.94 71.63M109.92 73.48L107.01 69.91M112.29 71.59L109.46 67.96M113.99 70.28L111.22 66.61M115.18 69.39L112.45 65.69M116.85 68.18L114.18 64.44M118.71 66.88L116.1 63.09M121.22 65.2L118.69 61.35M123.34 63.83L120.88 59.94M129.33 60.27L127.09 56.25M131.1 59.3L128.91 55.25M133.79 57.88L131.69 53.79M134.97 57.28L132.92 53.17M137.32 56.14L135.34 51.98M139.19 55.26L137.28 51.08M140.51 54.67L138.64 50.46M143.12 53.54L141.34 49.3M145.92 52.4L144.24 48.12M147.53 51.78L145.9 47.48M148.83 51.3L147.24 46.98M150.31 50.76L148.78 46.43M151.54 50.33L150.05 45.98M154.4 49.39L153 45.01M156.19 48.83L154.85 44.43M159.08 47.99L157.84 43.56M164.82 46.52L163.78 42.04M166.24 46.2L165.24 41.71M168.38 45.74L167.46 41.24M170.08 45.41L169.22 40.89M171.37 45.17L170.55 40.64M174.08 44.71L173.35 40.16M176.06 44.4L175.4 39.85M178.04 44.13L177.45 39.57M179.87 43.91L179.34 39.34M181.31 43.75L180.83 39.17M184.11 43.48L183.72 38.9M186.57 43.29L186.26 38.71M189.25 43.14L189.04 38.55M191.24 43.07L191.1 38.47M193.82 43.01L193.76 38.41M199.97 43.07L200.12 38.48M201.35 43.13L201.54 38.53M204.22 43.28L204.52 38.69M206.28 43.43L206.64 38.84M209.01 43.68L209.46 39.1M211.9 44L212.46 39.43M214.08 44.28L214.71 39.72M215.39 44.47L216.07 39.92M217.7 44.83L218.45 40.29M220.17 45.27L221.01 40.74M222.56 45.73L223.48 41.23M223.89 46.01L224.85 41.51M226.26 46.54L227.31 42.06M231.28 47.81L232.49 43.38M233.48 48.44L234.77 44.02M234.76 48.82L236.09 44.41M237.15 49.56L238.56 45.19M238.83 50.12L240.3 45.76M241.39 51.01L242.95 46.69M244.16 52.04L245.81 47.75M245.52 52.58L247.22 48.3M246.83 53.11L248.58 48.85M248.81 53.93L250.62 49.71M250.12 54.5L251.97 50.3M251.68 55.21L253.59 51.02M253.19 55.91L255.15 51.75M260.02 59.36L262.21 55.32M261.28 60.05L263.51 56.03M262.85 60.94L265.14 56.95M264.92 62.15L267.28 58.2M266.33 63L268.74 59.08M267.66 63.83L270.11 59.94M269.72 65.16L272.24 61.31M271.25 66.17L273.83 62.36M272.52 67.04L275.14 63.26M273.67 67.85L276.33 64.09M276.12 69.62L278.86 65.92M278.14 71.14L280.95 67.5M282.72 74.83L285.68 71.31M284.33 76.21L287.35 72.74M285.47 77.21L288.52 73.77M286.69 78.32L289.79 74.92M288.86 80.33L292.03 77M290.16 81.59L293.38 78.3M292.11 83.54L295.39 80.31M294.23 85.74L297.59 82.6M295.37 86.97L298.76 83.86M296.33 88.03L299.76 84.96M299.93 92.22L303.48 89.29M300.9 93.41L304.48 90.52M302.27 95.13L305.9 92.3M303.82 97.15L307.5 94.39M305.11 98.91L308.83 96.21M306.27 100.54L310.04 97.89M307.02 101.61L310.81 99M308.42 103.69L312.26 101.15M309.42 105.22L313.29 102.74M310.51 106.95L314.42 104.52M313.31 111.66L317.31 109.39M314.23 113.32L318.27 111.11M314.95 114.65L319.01 112.48M316.14 116.92L320.24 114.83M316.95 118.54L321.08 116.51M317.57 119.82L321.72 117.83M318.87 122.6L323.06 120.7M319.45 123.91L323.66 122.06M321.62 129.13L325.9 127.45M322.6 131.72L326.92 130.14M323.42 134.01L327.76 132.5M323.98 135.66L328.34 134.21M324.62 137.63L329 136.24M325.1 139.19L329.5 137.86M325.85 141.78L330.28 140.53M327.67 149L332.16 148M328.27 151.85L332.78 150.95M328.7 154.08L333.22 153.26M328.95 155.5L333.48 154.73M329.28 157.51L333.82 156.8M330.22 164.8L334.79 164.34M330.35 166.18L334.93 165.77M330.48 167.7L335.06 167.34M330.62 169.73L335.21 169.44M330.73 171.56L335.32 171.32M330.83 174.16L335.43 174.02" fill="none" stroke="#222" stroke-width="0.45"/>
<path d="M334.66 167.27A139.6 139.6 0 0 1 334.78 168.97L330.99 169.23A135.8 135.8 0 0 0 330.87 167.57Z" fill="#c8102e"/><path d="M67.57 122.53A139.6 139.6 0 0 1 68.26 120.97L71.72 122.54A135.8 135.8 0 0 0 71.05 124.05Z" fill="#c8102e"/><path d="M67.91 235.05A139.6 139.6 0 0 1 67.23 233.49L70.72 231.99A135.8 135.8 0 0 0 71.38 233.51Z" fill="#c8102e"/><path d="M58.27 152.81A139.6 139.6 0 0 1 58.59 151.13L62.32 151.87A135.8 135.8 0 0 0 62 153.5Z" fill="#c8102e"/><path d="M59.11 148.62A139.6 139.6 0 0 1 59.49 146.96L63.19 147.82A135.8 135.8 0 0 0 62.82 149.44Z" fill="#c8102e"/><path d="M59.2 208.59A139.6 139.6 0 0 1 58.85 206.92L62.57 206.15A135.8 135.8 0 0 0 62.91 207.77Z" fill="#c8102e"/><path d="M302.04 268.61A139.6 139.6 0 0 1 300.93 269.9L298.06 267.41A135.8 135.8 0 0 0 299.14 266.15Z" fill="#c8102e"/><path d="M203.18 39.01A139.6 139.6 0 0 1 204.88 39.12L204.63 42.91A135.8 135.8 0 0 0 202.97 42.81Z" fill="#c8102e"/><path d="M56.11 186.11A139.6 139.6 0 0 1 56.03 184.4L59.83 184.24A135.8 135.8 0 0 0 59.91 185.9Z" fill="#c8102e"/><path d="M129.18 55.56A139.6 139.6 0 0 1 130.68 54.76L132.45 58.13A135.8 135.8 0 0 0 130.98 58.91Z" fill="#c8102e"/><path d="M237.81 45.36A139.6 139.6 0 0 1 239.43 45.89L238.23 49.5A135.8 135.8 0 0 0 236.65 48.99Z" fill="#c8102e"/><path d="M270.38 60.58A139.6 139.6 0 0 1 271.82 61.51L269.74 64.69A135.8 135.8 0 0 0 268.35 63.79Z" fill="#c8102e"/><path d="M290.53 76.14A139.6 139.6 0 0 1 291.77 77.3L289.15 80.06A135.8 135.8 0 0 0 287.94 78.92Z" fill="#c8102e"/><path d="M305.06 91.89A139.6 139.6 0 0 1 306.11 93.24L303.1 95.55A135.8 135.8 0 0 0 302.08 94.25Z" fill="#c8102e"/><path d="M332.49 151.53A139.6 139.6 0 0 1 332.81 153.21L329.07 153.9A135.8 135.8 0 0 0 328.76 152.27Z" fill="#c8102e"/><path d="M328.86 219.68A139.6 139.6 0 0 1 328.34 221.31L324.73 220.14A135.8 135.8 0 0 0 325.23 218.56Z" fill="#c8102e"/><path d="M235.52 312.14A139.6 139.6 0 0 1 233.88 312.62L232.84 308.97A135.8 135.8 0 0 0 234.43 308.5Z" fill="#c8102e"/><path d="M194.2 317.99A139.6 139.6 0 0 1 192.5 317.97L192.58 314.17A135.8 135.8 0 0 0 194.24 314.19Z" fill="#c8102e"/><path d="M116.57 293.54A139.6 139.6 0 0 1 115.17 292.57L117.35 289.46A135.8 135.8 0 0 0 118.72 290.41Z" fill="#c8102e"/><path d="M89.15 268.83A139.6 139.6 0 0 1 88.05 267.52L90.98 265.1A135.8 135.8 0 0 0 92.04 266.37Z" fill="#c8102e"/><path d="M79.4 100.88A139.6 139.6 0 0 1 80.36 99.47L83.49 101.62A135.8 135.8 0 0 0 82.56 102.99Z" fill="#c8102e"/><path d="M109.17 68.7A139.6 139.6 0 0 1 110.51 67.65L112.83 70.66A135.8 135.8 0 0 0 111.52 71.68Z" fill="#c8102e"/><path d="M172.88 40.65A139.6 139.6 0 0 1 174.56 40.38L175.13 44.14A135.8 135.8 0 0 0 173.49 44.4Z" fill="#c8102e"/><path d="M319.96 115.17A139.6 139.6 0 0 1 320.72 116.7L317.31 118.38A135.8 135.8 0 0 0 316.57 116.89Z" fill="#c8102e"/><path d="M328.43 135.77A139.6 139.6 0 0 1 328.94 137.39L325.31 138.51A135.8 135.8 0 0 0 324.81 136.93Z" fill="#c8102e"/>
<path d="M335.5 178.5A140 140 0 0 1 317.79 246.56L313.77 244.32A135.4 135.4 0 0 0 330.9 178.49ZM316.48 248.85A140 140 0 0 1 268.43 297.9L266.04 293.98A135.4 135.4 0 0 0 312.51 246.54ZM266.17 299.26A140 140 0 0 1 213.05 317.3L212.47 312.73A135.4 135.4 0 0 0 263.85 295.28ZM210.43 317.6A140 140 0 0 1 156.46 312.85L157.74 308.43A135.4 135.4 0 0 0 209.94 313.03ZM153.93 312.09A140 140 0 0 1 108.56 288.13L111.41 284.53A135.4 135.4 0 0 0 155.3 307.69ZM106.51 286.47A140 140 0 0 1 74.94 249.57L78.9 247.23A135.4 135.4 0 0 0 109.43 282.92ZM73.62 247.29A140 140 0 0 1 58.03 204.87L62.54 204A135.4 135.4 0 0 0 77.62 245.02ZM57.55 202.27A140 140 0 0 1 56.62 160.69L61.19 161.27A135.4 135.4 0 0 0 62.08 201.49ZM56.98 158.08A140 140 0 0 1 68.44 119.61L72.62 121.54A135.4 135.4 0 0 0 61.53 158.75ZM69.57 117.23A140 140 0 0 1 91.02 85.21L94.45 88.27A135.4 135.4 0 0 0 73.71 119.24ZM92.79 83.26A140 140 0 0 1 122.5 58.94L124.89 62.87A135.4 135.4 0 0 0 96.17 86.39ZM124.76 57.59A140 140 0 0 1 159.91 43L161.08 47.45A135.4 135.4 0 0 0 127.08 61.56ZM162.47 42.35A140 140 0 0 1 195.01 38.4L195.02 43A135.4 135.4 0 0 0 163.56 46.82ZM197.64 38.42A140 140 0 0 1 227.97 42.22L226.9 46.69A135.4 135.4 0 0 0 197.57 43.02ZM230.53 42.85A140 140 0 0 1 257.87 53.06L255.82 57.18A135.4 135.4 0 0 0 229.38 47.31ZM260.23 54.26A140 140 0 0 1 281.85 68.2L279.02 71.83A135.4 135.4 0 0 0 258.1 58.34ZM283.92 69.85A140 140 0 0 1 300.58 85.89L297.13 88.93A135.4 135.4 0 0 0 281.01 73.42ZM302.31 87.89A140 140 0 0 1 315.3 105.95L311.36 108.33A135.4 135.4 0 0 0 298.8 90.86ZM316.64 108.22A140 140 0 0 1 324.2 123.29L319.97 125.1A135.4 135.4 0 0 0 312.66 110.53ZM325.21 125.73A140 140 0 0 1 330.89 142.77L326.44 143.94A135.4 135.4 0 0 0 320.95 127.46ZM331.54 145.33A140 140 0 0 1 334.12 158.81L329.57 159.45A135.4 135.4 0 0 0 327.07 146.42ZM334.47 161.42A140 140 0 0 1 335.48 176.01L330.88 176.09A135.4 135.4 0 0 0 329.9 161.98Z" fill="none" stroke="#111" stroke-width="1.1"/>
<path d="M328.4 179.07A132.9 132.9 0 0 1 311.87 242.6L284.37 227.43A101.5 101.5 0 0 0 297 178.91ZM310.05 245.78A132.9 132.9 0 0 1 265.23 291.54L248.75 264.81A101.5 101.5 0 0 0 282.99 229.86ZM262.08 293.42A132.9 132.9 0 0 1 212.74 310.18L208.66 279.04A101.5 101.5 0 0 0 246.35 266.24ZM209.1 310.6A132.9 132.9 0 0 1 159 306.19L167.62 276A101.5 101.5 0 0 0 205.88 279.37ZM155.49 305.13A132.9 132.9 0 0 1 113.42 282.93L132.81 258.23A101.5 101.5 0 0 0 164.94 275.19ZM110.57 280.62A132.9 132.9 0 0 1 81.35 246.46L108.32 230.38A101.5 101.5 0 0 0 130.64 256.47ZM79.52 243.29A132.9 132.9 0 0 1 65.11 204.1L95.92 198.03A101.5 101.5 0 0 0 106.92 227.96ZM64.45 200.49A132.9 132.9 0 0 1 63.6 162.17L94.76 166A101.5 101.5 0 0 0 95.41 195.27ZM64.09 158.54A132.9 132.9 0 0 1 74.64 123.12L103.2 136.18A101.5 101.5 0 0 0 95.14 163.23ZM76.21 119.81A132.9 132.9 0 0 1 95.93 90.37L119.46 111.17A101.5 101.5 0 0 0 104.4 133.65ZM98.4 87.66A132.9 132.9 0 0 1 125.7 65.3L142.19 92.02A101.5 101.5 0 0 0 121.34 109.1ZM128.85 63.42A132.9 132.9 0 0 1 161.16 50.01L169.27 80.35A101.5 101.5 0 0 0 144.6 90.59ZM164.71 49.12A132.9 132.9 0 0 1 194.45 45.5L194.7 76.9A101.5 101.5 0 0 0 171.98 79.66ZM198.12 45.53A132.9 132.9 0 0 1 225.75 48.99L218.61 79.57A101.5 101.5 0 0 0 197.5 76.92ZM229.31 49.87A132.9 132.9 0 0 1 254.19 59.16L240.32 87.33A101.5 101.5 0 0 0 221.32 80.24ZM257.46 60.83A132.9 132.9 0 0 1 277.02 73.44L257.76 98.24A101.5 101.5 0 0 0 242.82 88.6ZM279.88 75.72A132.9 132.9 0 0 1 294.87 90.15L271.39 111A101.5 101.5 0 0 0 259.94 99.98ZM297.27 92.92A132.9 132.9 0 0 1 308.92 109.13L282.12 125.5A101.5 101.5 0 0 0 273.22 113.12ZM310.79 112.28A132.9 132.9 0 0 1 317.44 125.55L288.63 138.04A101.5 101.5 0 0 0 283.55 127.91ZM318.85 128.93A132.9 132.9 0 0 1 323.88 144.02L293.54 152.14A101.5 101.5 0 0 0 289.71 140.62ZM324.77 147.57A132.9 132.9 0 0 1 327.01 159.23L295.94 163.76A101.5 101.5 0 0 0 294.23 154.85ZM327.49 162.86A132.9 132.9 0 0 1 328.37 175.55L296.98 176.23A101.5 101.5 0 0 0 296.3 166.53Z" fill="none" stroke="#3a3a3a" stroke-width="0.8"/>
<path d="M264.3 179.17A68.8 68.8 0 0 1 255.94 211.27M266.4 179.19A70.9 70.9 0 0 1 257.79 212.27M268.5 179.22A73 73 0 0 1 259.63 213.27M270.6 179.24A75.1 75.1 0 0 1 261.48 214.27M272.7 179.26A77.2 77.2 0 0 1 263.32 215.28M274.8 179.29A79.3 79.3 0 0 1 265.17 216.28M276.89 179.31A81.4 81.4 0 0 1 267.01 217.28M278.99 179.33A83.5 83.5 0 0 1 268.86 218.29M281.09 179.36A85.6 85.6 0 0 1 270.7 219.29M283.19 179.38A87.7 87.7 0 0 1 272.55 220.29M285.29 179.4A89.8 89.8 0 0 1 274.39 221.3M287.39 179.43A91.9 91.9 0 0 1 276.24 222.3M289.49 179.45A94 94 0 0 1 278.08 223.3M291.59 179.47A96.1 96.1 0 0 1 279.93 224.31M293.69 179.5A98.2 98.2 0 0 1 281.77 225.31M254.59 213.64A68.8 68.8 0 0 1 231.95 236.75M256.39 214.72A70.9 70.9 0 0 1 233.07 238.53M258.19 215.8A73 73 0 0 1 234.18 240.31M260 216.87A75.1 75.1 0 0 1 235.29 242.09M261.8 217.95A77.2 77.2 0 0 1 236.41 243.87M263.6 219.02A79.3 79.3 0 0 1 237.52 245.65M265.41 220.1A81.4 81.4 0 0 1 238.63 247.43M267.21 221.17A83.5 83.5 0 0 1 239.74 249.21M269.02 222.25A85.6 85.6 0 0 1 240.86 251M270.82 223.33A87.7 87.7 0 0 1 241.97 252.78M272.62 224.4A89.8 89.8 0 0 1 243.08 254.56M274.43 225.48A91.9 91.9 0 0 1 244.19 256.34M276.23 226.55A94 94 0 0 1 245.31 258.12M278.03 227.63A96.1 96.1 0 0 1 246.42 259.9M279.84 228.7A98.2 98.2 0 0 1 247.53 261.68M229.6 238.15A68.8 68.8 0 0 1 204.84 246.56M230.65 239.98A70.9 70.9 0 0 1 205.12 248.64M231.69 241.8A73 73 0 0 1 205.41 250.72M232.73 243.62A75.1 75.1 0 0 1 205.69 252.8M233.77 245.45A77.2 77.2 0 0 1 205.98 254.89M234.81 247.27A79.3 79.3 0 0 1 206.26 256.97M235.85 249.1A81.4 81.4 0 0 1 206.55 259.05M236.89 250.92A83.5 83.5 0 0 1 206.83 261.13M237.93 252.74A85.6 85.6 0 0 1 207.12 263.21M238.97 254.57A87.7 87.7 0 0 1 207.4 265.29M240.01 256.39A89.8 89.8 0 0 1 207.69 267.37M241.06 258.21A91.9 91.9 0 0 1 207.97 269.45M242.1 260.04A94 94 0 0 1 208.26 271.53M243.14 261.86A96.1 96.1 0 0 1 208.54 273.61M244.18 263.69A98.2 98.2 0 0 1 208.83 275.69M202.12 246.88A68.8 68.8 0 0 1 177.01 244.67M202.32 248.97A70.9 70.9 0 0 1 176.44 246.69M202.52 251.06A73 73 0 0 1 175.88 248.71M202.73 253.15A75.1 75.1 0 0 1 175.31 250.74M202.93 255.24A77.2 77.2 0 0 1 174.75 252.76M203.13 257.33A79.3 79.3 0 0 1 174.19 254.78M203.33 259.42A81.4 81.4 0 0 1 173.62 256.8M203.53 261.51A83.5 83.5 0 0 1 173.06 258.83M203.74 263.6A85.6 85.6 0 0 1 172.49 260.85M203.94 265.69A87.7 87.7 0 0 1 171.93 262.87M204.14 267.78A89.8 89.8 0 0 1 171.36 264.9M204.34 269.87A91.9 91.9 0 0 1 170.8 266.92M204.54 271.96A94 94 0 0 1 170.23 268.94M204.75 274.05A96.1 96.1 0 0 1 169.67 270.96M204.95 276.14A98.2 98.2 0 0 1 169.11 272.99M174.39 243.88A68.8 68.8 0 0 1 153.34 232.77M173.74 245.88A70.9 70.9 0 0 1 152.05 234.43M173.1 247.88A73 73 0 0 1 150.77 236.09M172.45 249.88A75.1 75.1 0 0 1 149.48 237.75M171.81 251.87A77.2 77.2 0 0 1 148.19 239.41M171.16 253.87A79.3 79.3 0 0 1 146.91 241.07M170.52 255.87A81.4 81.4 0 0 1 145.62 242.73M169.88 257.87A83.5 83.5 0 0 1 144.33 244.39M169.23 259.87A85.6 85.6 0 0 1 143.05 246.05M168.59 261.87A87.7 87.7 0 0 1 141.76 247.71M167.94 263.87A89.8 89.8 0 0 1 140.47 249.37M167.3 265.87A91.9 91.9 0 0 1 139.19 251.02M166.65 267.86A94 94 0 0 1 137.9 252.68M166.01 269.86A96.1 96.1 0 0 1 136.61 254.34M165.36 271.86A98.2 98.2 0 0 1 135.33 256M151.21 231.05A68.8 68.8 0 0 1 136.62 213.99M149.86 232.66A70.9 70.9 0 0 1 134.83 215.08M148.51 234.26A73 73 0 0 1 133.03 216.17M147.16 235.87A75.1 75.1 0 0 1 131.23 217.25M145.8 237.48A77.2 77.2 0 0 1 129.43 218.34M144.45 239.08A79.3 79.3 0 0 1 127.64 219.43M143.1 240.69A81.4 81.4 0 0 1 125.84 220.51M141.75 242.3A83.5 83.5 0 0 1 124.04 221.6M140.4 243.91A85.6 85.6 0 0 1 122.25 222.69M139.05 245.51A87.7 87.7 0 0 1 120.45 223.77M137.69 247.12A89.8 89.8 0 0 1 118.65 224.86M136.34 248.73A91.9 91.9 0 0 1 116.85 225.94M134.99 250.33A94 94 0 0 1 115.06 227.03M133.64 251.94A96.1 96.1 0 0 1 113.26 228.12M132.29 253.55A98.2 98.2 0 0 1 111.46 229.2M135.25 211.62A68.8 68.8 0 0 1 128.08 192.11M133.41 212.64A70.9 70.9 0 0 1 126.02 192.53M131.58 213.65A73 73 0 0 1 123.97 192.95M129.74 214.67A75.1 75.1 0 0 1 121.91 193.37M127.9 215.68A77.2 77.2 0 0 1 119.85 193.79M126.06 216.69A79.3 79.3 0 0 1 117.79 194.21M124.22 217.71A81.4 81.4 0 0 1 115.73 194.63M122.38 218.72A83.5 83.5 0 0 1 113.68 195.05M120.54 219.74A85.6 85.6 0 0 1 111.62 195.46M118.7 220.75A87.7 87.7 0 0 1 109.56 195.88M116.86 221.76A89.8 89.8 0 0 1 107.5 196.3M115.03 222.78A91.9 91.9 0 0 1 105.44 196.72M113.19 223.79A94 94 0 0 1 103.39 197.14M111.35 224.81A96.1 96.1 0 0 1 101.33 197.56M109.51 225.82A98.2 98.2 0 0 1 99.27 197.98M127.59 189.42A68.8 68.8 0 0 1 127.17 170.41M125.52 189.76A70.9 70.9 0 0 1 125.08 170.17M123.44 190.09A73 73 0 0 1 122.99 169.93M121.37 190.43A75.1 75.1 0 0 1 120.91 169.68M119.3 190.77A77.2 77.2 0 0 1 118.82 169.44M117.22 191.1A79.3 79.3 0 0 1 116.74 169.19M115.15 191.44A81.4 81.4 0 0 1 114.65 168.95M113.08 191.78A83.5 83.5 0 0 1 112.56 168.71M111.01 192.11A85.6 85.6 0 0 1 110.48 168.46M108.93 192.45A87.7 87.7 0 0 1 108.39 168.22M106.86 192.79A89.8 89.8 0 0 1 106.31 167.98M104.79 193.12A91.9 91.9 0 0 1 104.22 167.73M102.71 193.46A94 94 0 0 1 102.14 167.49M100.64 193.8A96.1 96.1 0 0 1 100.05 167.24M98.57 194.13A98.2 98.2 0 0 1 97.96 167M127.54 167.7A68.8 68.8 0 0 1 132.76 150.16M125.46 167.37A70.9 70.9 0 0 1 130.85 149.3M123.39 167.05A73 73 0 0 1 128.93 148.44M121.31 166.72A75.1 75.1 0 0 1 127.02 147.58M119.24 166.39A77.2 77.2 0 0 1 125.1 146.72M117.16 166.07A79.3 79.3 0 0 1 123.19 145.86M115.09 165.74A81.4 81.4 0 0 1 121.27 144.99M113.02 165.42A83.5 83.5 0 0 1 119.36 144.13M110.94 165.09A85.6 85.6 0 0 1 117.44 143.27M108.87 164.76A87.7 87.7 0 0 1 115.53 142.41M106.79 164.44A89.8 89.8 0 0 1 113.61 141.55M104.72 164.11A91.9 91.9 0 0 1 111.7 140.68M102.64 163.78A94 94 0 0 1 109.78 139.82M100.57 163.46A96.1 96.1 0 0 1 107.87 138.96M98.49 163.13A98.2 98.2 0 0 1 105.95 138.1M133.93 147.69A68.8 68.8 0 0 1 143.68 133.15M132.05 146.75A70.9 70.9 0 0 1 142.1 131.76M130.18 145.82A73 73 0 0 1 140.52 130.38M128.3 144.88A75.1 75.1 0 0 1 138.93 129M126.42 143.94A77.2 77.2 0 0 1 137.35 127.62M124.54 143A79.3 79.3 0 0 1 135.77 126.24M122.66 142.07A81.4 81.4 0 0 1 134.19 124.86M120.78 141.13A83.5 83.5 0 0 1 132.61 123.48M118.9 140.19A85.6 85.6 0 0 1 131.02 122.09M117.02 139.26A87.7 87.7 0 0 1 129.44 120.71M115.14 138.32A89.8 89.8 0 0 1 127.86 119.33M113.26 137.38A91.9 91.9 0 0 1 126.28 117.95M111.38 136.44A94 94 0 0 1 124.7 116.57M109.5 135.51A96.1 96.1 0 0 1 123.12 115.19M107.62 134.57A98.2 98.2 0 0 1 121.53 113.81M145.52 131.12A68.8 68.8 0 0 1 159.01 120.07M143.99 129.68A70.9 70.9 0 0 1 157.9 118.29M142.47 128.23A73 73 0 0 1 156.78 116.51M140.94 126.79A75.1 75.1 0 0 1 155.67 114.73M139.42 125.35A77.2 77.2 0 0 1 154.56 112.95M137.89 123.9A79.3 79.3 0 0 1 153.44 111.17M136.37 122.46A81.4 81.4 0 0 1 152.33 109.39M134.84 121.02A83.5 83.5 0 0 1 151.21 107.61M133.32 119.57A85.6 85.6 0 0 1 150.1 105.83M131.79 118.13A87.7 87.7 0 0 1 148.99 104.05M130.26 116.69A89.8 89.8 0 0 1 147.87 102.27M128.74 115.24A91.9 91.9 0 0 1 146.76 100.49M127.21 113.8A94 94 0 0 1 145.65 98.71M125.69 112.36A96.1 96.1 0 0 1 144.53 96.93M124.16 110.92A98.2 98.2 0 0 1 143.42 95.15M161.36 118.67A68.8 68.8 0 0 1 177.32 112.05M160.32 116.84A70.9 70.9 0 0 1 176.76 110.02M159.28 115.02A73 73 0 0 1 176.21 108M158.23 113.2A75.1 75.1 0 0 1 175.65 105.97M157.19 111.38A77.2 77.2 0 0 1 175.1 103.95M156.15 109.55A79.3 79.3 0 0 1 174.54 101.92M155.11 107.73A81.4 81.4 0 0 1 173.99 99.89M154.07 105.91A83.5 83.5 0 0 1 173.43 97.87M153.02 104.08A85.6 85.6 0 0 1 172.88 95.84M151.98 102.26A87.7 87.7 0 0 1 172.32 93.82M150.94 100.44A89.8 89.8 0 0 1 171.76 91.79M149.9 98.61A91.9 91.9 0 0 1 171.21 89.77M148.86 96.79A94 94 0 0 1 170.65 87.74M147.81 94.97A96.1 96.1 0 0 1 170.1 85.72M146.77 93.14A98.2 98.2 0 0 1 169.54 83.69M179.97 111.38A68.8 68.8 0 0 1 194.54 109.61M179.5 109.33A70.9 70.9 0 0 1 194.51 107.51M179.02 107.28A73 73 0 0 1 194.48 105.41M178.55 105.24A75.1 75.1 0 0 1 194.45 103.31M178.07 103.19A77.2 77.2 0 0 1 194.42 101.21M177.6 101.15A79.3 79.3 0 0 1 194.39 99.11M177.13 99.1A81.4 81.4 0 0 1 194.36 97.01M176.65 97.06A83.5 83.5 0 0 1 194.33 94.91M176.18 95.01A85.6 85.6 0 0 1 194.3 92.81M175.7 92.96A87.7 87.7 0 0 1 194.27 90.71M175.23 90.92A89.8 89.8 0 0 1 194.24 88.61M174.76 88.87A91.9 91.9 0 0 1 194.21 86.51M174.28 86.83A94 94 0 0 1 194.18 84.41M173.81 84.78A96.1 96.1 0 0 1 194.15 82.31M173.33 82.73A98.2 98.2 0 0 1 194.13 80.21M197.27 109.62A68.8 68.8 0 0 1 210.75 111.31M197.33 107.52A70.9 70.9 0 0 1 211.22 109.26M197.38 105.42A73 73 0 0 1 211.68 107.22M197.44 103.32A75.1 75.1 0 0 1 212.15 105.17M197.49 101.23A77.2 77.2 0 0 1 212.62 103.12M197.55 99.13A79.3 79.3 0 0 1 213.08 101.07M197.6 97.03A81.4 81.4 0 0 1 213.55 99.03M197.65 94.93A83.5 83.5 0 0 1 214.01 96.98M197.71 92.83A85.6 85.6 0 0 1 214.48 94.93M197.76 90.73A87.7 87.7 0 0 1 214.94 92.88M197.82 88.63A89.8 89.8 0 0 1 215.41 90.83M197.87 86.53A91.9 91.9 0 0 1 215.87 88.79M197.92 84.43A94 94 0 0 1 216.34 86.74M197.98 82.33A96.1 96.1 0 0 1 216.81 84.69M198.03 80.23A98.2 98.2 0 0 1 217.27 82.64M213.41 111.97A68.8 68.8 0 0 1 225.51 116.49M213.96 109.94A70.9 70.9 0 0 1 226.42 114.6M214.5 107.92A73 73 0 0 1 227.34 112.71M215.05 105.89A75.1 75.1 0 0 1 228.25 110.82M215.6 103.86A77.2 77.2 0 0 1 229.17 108.93M216.14 101.83A79.3 79.3 0 0 1 230.08 107.04M216.69 99.81A81.4 81.4 0 0 1 231 105.15M217.24 97.78A83.5 83.5 0 0 1 231.92 103.26M217.78 95.75A85.6 85.6 0 0 1 232.83 101.37M218.33 93.72A87.7 87.7 0 0 1 233.75 99.48M218.88 91.7A89.8 89.8 0 0 1 234.66 97.59M219.42 89.67A91.9 91.9 0 0 1 235.58 95.7M219.97 87.64A94 94 0 0 1 236.5 93.81M220.52 85.61A96.1 96.1 0 0 1 237.41 91.92M221.06 83.59A98.2 98.2 0 0 1 238.33 90.03M227.94 117.73A68.8 68.8 0 0 1 237.37 123.81M228.94 115.88A70.9 70.9 0 0 1 238.65 122.14M229.93 114.03A73 73 0 0 1 239.92 120.47M230.92 112.18A75.1 75.1 0 0 1 241.2 118.81M231.91 110.32A77.2 77.2 0 0 1 242.48 117.14M232.9 108.47A79.3 79.3 0 0 1 243.76 115.47M233.89 106.62A81.4 81.4 0 0 1 245.03 113.81M234.88 104.77A83.5 83.5 0 0 1 246.31 112.14M235.87 102.92A85.6 85.6 0 0 1 247.59 110.47M236.86 101.06A87.7 87.7 0 0 1 248.87 108.81M237.85 99.21A89.8 89.8 0 0 1 250.15 107.14M238.84 97.36A91.9 91.9 0 0 1 251.42 105.47M239.83 95.51A94 94 0 0 1 252.7 103.81M240.82 93.66A96.1 96.1 0 0 1 253.98 102.14M241.81 91.81A98.2 98.2 0 0 1 255.26 100.48M239.51 125.51A68.8 68.8 0 0 1 246.66 132.4M240.85 123.9A70.9 70.9 0 0 1 248.22 131M242.19 122.29A73 73 0 0 1 249.79 129.59M243.54 120.67A75.1 75.1 0 0 1 251.35 128.19M244.88 119.06A77.2 77.2 0 0 1 252.91 126.79M246.22 117.44A79.3 79.3 0 0 1 254.47 125.38M247.57 115.83A81.4 81.4 0 0 1 256.03 123.98M248.91 114.21A83.5 83.5 0 0 1 257.59 122.57M250.25 112.6A85.6 85.6 0 0 1 259.16 121.17M251.59 110.99A87.7 87.7 0 0 1 260.72 119.77M252.94 109.37A89.8 89.8 0 0 1 262.28 118.36M254.28 107.76A91.9 91.9 0 0 1 263.84 116.96M255.62 106.14A94 94 0 0 1 265.4 115.55M256.97 104.53A96.1 96.1 0 0 1 266.96 114.15M258.31 102.91A98.2 98.2 0 0 1 268.53 112.75M248.45 134.47A68.8 68.8 0 0 1 254 142.18M250.07 133.13A70.9 70.9 0 0 1 255.78 141.08M251.68 131.79A73 73 0 0 1 257.57 139.97M253.3 130.45A75.1 75.1 0 0 1 259.35 138.87M254.92 129.11A77.2 77.2 0 0 1 261.14 137.76M256.53 127.77A79.3 79.3 0 0 1 262.92 136.66M258.15 126.43A81.4 81.4 0 0 1 264.71 135.55M259.77 125.09A83.5 83.5 0 0 1 266.49 134.44M261.38 123.75A85.6 85.6 0 0 1 268.28 133.34M263 122.41A87.7 87.7 0 0 1 270.06 132.23M264.61 121.07A89.8 89.8 0 0 1 271.85 131.13M266.23 119.72A91.9 91.9 0 0 1 273.64 130.02M267.85 118.38A94 94 0 0 1 275.42 128.92M269.46 117.04A96.1 96.1 0 0 1 277.21 127.81M271.08 115.7A98.2 98.2 0 0 1 278.99 126.71M255.39 144.54A68.8 68.8 0 0 1 258.46 150.66M257.22 143.5A70.9 70.9 0 0 1 260.38 149.81M259.05 142.47A73 73 0 0 1 262.3 148.96M260.87 141.44A75.1 75.1 0 0 1 264.22 148.12M262.7 140.4A77.2 77.2 0 0 1 266.15 147.27M264.53 139.37A79.3 79.3 0 0 1 268.07 146.42M266.36 138.34A81.4 81.4 0 0 1 269.99 145.58M268.19 137.3A83.5 83.5 0 0 1 271.91 144.73M270.01 136.27A85.6 85.6 0 0 1 273.83 143.88M271.84 135.24A87.7 87.7 0 0 1 275.75 143.04M273.67 134.2A89.8 89.8 0 0 1 277.68 142.19M275.5 133.17A91.9 91.9 0 0 1 279.6 141.34M277.33 132.14A94 94 0 0 1 281.52 140.49M279.15 131.1A96.1 96.1 0 0 1 283.44 139.65M280.98 130.07A98.2 98.2 0 0 1 285.36 138.8M259.51 153.18A68.8 68.8 0 0 1 261.85 160.19M261.47 152.41A70.9 70.9 0 0 1 263.87 159.64M263.42 151.64A73 73 0 0 1 265.9 159.08M265.37 150.87A75.1 75.1 0 0 1 267.92 158.53M267.33 150.1A77.2 77.2 0 0 1 269.95 157.97M269.28 149.33A79.3 79.3 0 0 1 271.97 157.42M271.24 148.57A81.4 81.4 0 0 1 274 156.86M273.19 147.8A83.5 83.5 0 0 1 276.02 156.3M275.14 147.03A85.6 85.6 0 0 1 278.05 155.75M277.1 146.26A87.7 87.7 0 0 1 280.07 155.19M279.05 145.49A89.8 89.8 0 0 1 282.1 154.64M281 144.72A91.9 91.9 0 0 1 284.12 154.08M282.96 143.95A94 94 0 0 1 286.15 153.53M284.91 143.18A96.1 96.1 0 0 1 288.17 152.97M286.87 142.41A98.2 98.2 0 0 1 290.2 152.42M262.52 162.85A68.8 68.8 0 0 1 263.52 168.06M264.57 162.37A70.9 70.9 0 0 1 265.59 167.74M266.61 161.9A73 73 0 0 1 267.67 167.43M268.66 161.42A75.1 75.1 0 0 1 269.75 167.11M270.7 160.95A77.2 77.2 0 0 1 271.82 166.8M272.75 160.48A79.3 79.3 0 0 1 273.9 166.48M274.79 160A81.4 81.4 0 0 1 275.98 166.16M276.84 159.53A83.5 83.5 0 0 1 278.05 165.85M278.88 159.05A85.6 85.6 0 0 1 280.13 165.53M280.93 158.58A87.7 87.7 0 0 1 282.2 165.22M282.98 158.1A89.8 89.8 0 0 1 284.28 164.9M285.02 157.63A91.9 91.9 0 0 1 286.36 164.59M287.07 157.15A94 94 0 0 1 288.43 164.27M289.11 156.68A96.1 96.1 0 0 1 290.51 163.95M291.16 156.2A98.2 98.2 0 0 1 292.58 163.64M263.88 170.77A68.8 68.8 0 0 1 264.27 176.51M265.96 170.54A70.9 70.9 0 0 1 266.37 176.45M268.05 170.31A73 73 0 0 1 268.47 176.39M270.14 170.07A75.1 75.1 0 0 1 270.57 176.33M272.22 169.84A77.2 77.2 0 0 1 272.67 176.27M274.31 169.61A79.3 79.3 0 0 1 274.77 176.22M276.4 169.37A81.4 81.4 0 0 1 276.87 176.16M278.49 169.14A83.5 83.5 0 0 1 278.97 176.1M280.57 168.91A85.6 85.6 0 0 1 281.07 176.04M282.66 168.68A87.7 87.7 0 0 1 283.17 175.99M284.75 168.44A89.8 89.8 0 0 1 285.27 175.93M286.83 168.21A91.9 91.9 0 0 1 287.37 175.87M288.92 167.98A94 94 0 0 1 289.46 175.81M291.01 167.75A96.1 96.1 0 0 1 291.56 175.75M293.09 167.51A98.2 98.2 0 0 1 293.66 175.7" fill="none" stroke="#bdbdbd" stroke-width="0.3"/>
<g fill="none" stroke="#5a5a5a" stroke-width="0.75" stroke-dasharray="0.5 0.45 1.1 0.5 0.4 0.6"><path d="M264.3 179.17A68.8 68.8 0 0 1 255.94 211.27" stroke-dashoffset="0.72"/><path d="M266.4 179.19A70.9 70.9 0 0 1 257.79 212.27" stroke-dashoffset="1.45"/><path d="M268.5 179.22A73 73 0 0 1 259.63 213.27" stroke-dashoffset="2.01"/><path d="M270.6 179.24A75.1 75.1 0 0 1 261.48 214.27" stroke-dashoffset="0.36"/><path d="M272.7 179.26A77.2 77.2 0 0 1 263.32 215.28" stroke-dashoffset="1.93"/><path d="M274.8 179.29A79.3 79.3 0 0 1 265.17 216.28" stroke-dashoffset="0.23"/><path d="M276.89 179.31A81.4 81.4 0 0 1 267.01 217.28" stroke-dashoffset="1.50"/><path d="M278.99 179.33A83.5 83.5 0 0 1 268.86 218.29" stroke-dashoffset="2.44"/><path d="M281.09 179.36A85.6 85.6 0 0 1 270.7 219.29" stroke-dashoffset="1.65"/><path d="M283.19 179.38A87.7 87.7 0 0 1 272.55 220.29" stroke-dashoffset="1.36"/><path d="M285.29 179.4A89.8 89.8 0 0 1 274.39 221.3" stroke-dashoffset="1.00"/><path d="M287.39 179.43A91.9 91.9 0 0 1 276.24 222.3" stroke-dashoffset="2.28"/><path d="M289.49 179.45A94 94 0 0 1 278.08 223.3" stroke-dashoffset="1.28"/><path d="M291.59 179.47A96.1 96.1 0 0 1 279.93 224.31" stroke-dashoffset="1.64"/><path d="M293.69 179.5A98.2 98.2 0 0 1 281.77 225.31" stroke-dashoffset="0.73"/><path d="M254.59 213.64A68.8 68.8 0 0 1 231.95 236.75" stroke-dashoffset="0.52"/><path d="M256.39 214.72A70.9 70.9 0 0 1 233.07 238.53" stroke-dashoffset="1.67"/><path d="M258.19 215.8A73 73 0 0 1 234.18 240.31" stroke-dashoffset="0.96"/><path d="M260 216.87A75.1 75.1 0 0 1 235.29 242.09" stroke-dashoffset="1.10"/><path d="M261.8 217.95A77.2 77.2 0 0 1 236.41 243.87" stroke-dashoffset="2.43"/><path d="M263.6 219.02A79.3 79.3 0 0 1 237.52 245.65" stroke-dashoffset="0.61"/><path d="M265.41 220.1A81.4 81.4 0 0 1 238.63 247.43" stroke-dashoffset="0.06"/><path d="M267.21 221.17A83.5 83.5 0 0 1 239.74 249.21" stroke-dashoffset="2.61"/><path d="M269.02 222.25A85.6 85.6 0 0 1 240.86 251" stroke-dashoffset="1.15"/><path d="M270.82 223.33A87.7 87.7 0 0 1 241.97 252.78" stroke-dashoffset="2.24"/><path d="M272.62 224.4A89.8 89.8 0 0 1 243.08 254.56" stroke-dashoffset="0.63"/><path d="M274.43 225.48A91.9 91.9 0 0 1 244.19 256.34" stroke-dashoffset="0.81"/><path d="M276.23 226.55A94 94 0 0 1 245.31 258.12" stroke-dashoffset="2.26"/><path d="M278.03 227.63A96.1 96.1 0 0 1 246.42 259.9" stroke-dashoffset="1.49"/><path d="M279.84 228.7A98.2 98.2 0 0 1 247.53 261.68" stroke-dashoffset="1.72"/><path d="M229.6 238.15A68.8 68.8 0 0 1 204.84 246.56" stroke-dashoffset="1.08"/><path d="M230.65 239.98A70.9 70.9 0 0 1 205.12 248.64" stroke-dashoffset="2.06"/><path d="M231.69 241.8A73 73 0 0 1 205.41 250.72" stroke-dashoffset="1.59"/><path d="M232.73 243.62A75.1 75.1 0 0 1 205.69 252.8" stroke-dashoffset="2.37"/><path d="M233.77 245.45A77.2 77.2 0 0 1 205.98 254.89" stroke-dashoffset="2.55"/><path d="M234.81 247.27A79.3 79.3 0 0 1 206.26 256.97" stroke-dashoffset="0.28"/><path d="M235.85 249.1A81.4 81.4 0 0 1 206.55 259.05" stroke-dashoffset="2.69"/><path d="M236.89 250.92A83.5 83.5 0 0 1 206.83 261.13" stroke-dashoffset="1.15"/><path d="M237.93 252.74A85.6 85.6 0 0 1 207.12 263.21" stroke-dashoffset="1.94"/><path d="M238.97 254.57A87.7 87.7 0 0 1 207.4 265.29" stroke-dashoffset="1.30"/><path d="M240.01 256.39A89.8 89.8 0 0 1 207.69 267.37" stroke-dashoffset="0.94"/><path d="M241.06 258.21A91.9 91.9 0 0 1 207.97 269.45" stroke-dashoffset="2.44"/><path d="M242.1 260.04A94 94 0 0 1 208.26 271.53" stroke-dashoffset="2.90"/><path d="M243.14 261.86A96.1 96.1 0 0 1 208.54 273.61" stroke-dashoffset="0.38"/><path d="M244.18 263.69A98.2 98.2 0 0 1 208.83 275.69" stroke-dashoffset="1.28"/><path d="M202.12 246.88A68.8 68.8 0 0 1 177.01 244.67" stroke-dashoffset="2.29"/><path d="M202.32 248.97A70.9 70.9 0 0 1 176.44 246.69" stroke-dashoffset="2.41"/><path d="M202.52 251.06A73 73 0 0 1 175.88 248.71" stroke-dashoffset="2.90"/><path d="M202.73 253.15A75.1 75.1 0 0 1 175.31 250.74" stroke-dashoffset="1.47"/><path d="M202.93 255.24A77.2 77.2 0 0 1 174.75 252.76" stroke-dashoffset="0.22"/><path d="M203.13 257.33A79.3 79.3 0 0 1 174.19 254.78" stroke-dashoffset="2.79"/><path d="M203.33 259.42A81.4 81.4 0 0 1 173.62 256.8" stroke-dashoffset="2.78"/><path d="M203.53 261.51A83.5 83.5 0 0 1 173.06 258.83" stroke-dashoffset="1.58"/><path d="M203.74 263.6A85.6 85.6 0 0 1 172.49 260.85" stroke-dashoffset="1.40"/><path d="M203.94 265.69A87.7 87.7 0 0 1 171.93 262.87" stroke-dashoffset="1.35"/><path d="M204.14 267.78A89.8 89.8 0 0 1 171.36 264.9" stroke-dashoffset="2.35"/><path d="M204.34 269.87A91.9 91.9 0 0 1 170.8 266.92" stroke-dashoffset="0.67"/><path d="M204.54 271.96A94 94 0 0 1 170.23 268.94" stroke-dashoffset="0.46"/><path d="M204.75 274.05A96.1 96.1 0 0 1 169.67 270.96" stroke-dashoffset="2.92"/><path d="M204.95 276.14A98.2 98.2 0 0 1 169.11 272.99" stroke-dashoffset="0.33"/><path d="M174.39 243.88A68.8 68.8 0 0 1 153.34 232.77" stroke-dashoffset="2.48"/><path d="M173.74 245.88A70.9 70.9 0 0 1 152.05 234.43" stroke-dashoffset="2.10"/><path d="M173.1 247.88A73 73 0 0 1 150.77 236.09" stroke-dashoffset="2.54"/><path d="M172.45 249.88A75.1 75.1 0 0 1 149.48 237.75" stroke-dashoffset="2.68"/><path d="M171.81 251.87A77.2 77.2 0 0 1 148.19 239.41" stroke-dashoffset="0.26"/><path d="M171.16 253.87A79.3 79.3 0 0 1 146.91 241.07" stroke-dashoffset="2.33"/><path d="M170.52 255.87A81.4 81.4 0 0 1 145.62 242.73" stroke-dashoffset="0.00"/><path d="M169.88 257.87A83.5 83.5 0 0 1 144.33 244.39" stroke-dashoffset="0.38"/><path d="M169.23 259.87A85.6 85.6 0 0 1 143.05 246.05" stroke-dashoffset="1.71"/><path d="M168.59 261.87A87.7 87.7 0 0 1 141.76 247.71" stroke-dashoffset="0.11"/><path d="M167.94 263.87A89.8 89.8 0 0 1 140.47 249.37" stroke-dashoffset="2.15"/><path d="M167.3 265.87A91.9 91.9 0 0 1 139.19 251.02" stroke-dashoffset="2.89"/><path d="M166.65 267.86A94 94 0 0 1 137.9 252.68" stroke-dashoffset="1.88"/><path d="M166.01 269.86A96.1 96.1 0 0 1 136.61 254.34" stroke-dashoffset="1.58"/><path d="M165.36 271.86A98.2 98.2 0 0 1 135.33 256" stroke-dashoffset="1.31"/><path d="M151.21 231.05A68.8 68.8 0 0 1 136.62 213.99" stroke-dashoffset="2.29"/><path d="M149.86 232.66A70.9 70.9 0 0 1 134.83 215.08" stroke-dashoffset="0.30"/><path d="M148.51 234.26A73 73 0 0 1 133.03 216.17" stroke-dashoffset="0.90"/><path d="M147.16 235.87A75.1 75.1 0 0 1 131.23 217.25" stroke-dashoffset="2.83"/><path d="M145.8 237.48A77.2 77.2 0 0 1 129.43 218.34" stroke-dashoffset="0.58"/><path d="M144.45 239.08A79.3 79.3 0 0 1 127.64 219.43" stroke-dashoffset="0.78"/><path d="M143.1 240.69A81.4 81.4 0 0 1 125.84 220.51" stroke-dashoffset="2.37"/><path d="M141.75 242.3A83.5 83.5 0 0 1 124.04 221.6" stroke-dashoffset="0.00"/><path d="M140.4 243.91A85.6 85.6 0 0 1 122.25 222.69" stroke-dashoffset="1.61"/><path d="M139.05 245.51A87.7 87.7 0 0 1 120.45 223.77" stroke-dashoffset="2.99"/><path d="M137.69 247.12A89.8 89.8 0 0 1 118.65 224.86" stroke-dashoffset="0.84"/><path d="M136.34 248.73A91.9 91.9 0 0 1 116.85 225.94" stroke-dashoffset="0.95"/><path d="M134.99 250.33A94 94 0 0 1 115.06 227.03" stroke-dashoffset="2.52"/><path d="M133.64 251.94A96.1 96.1 0 0 1 113.26 228.12" stroke-dashoffset="0.73"/><path d="M132.29 253.55A98.2 98.2 0 0 1 111.46 229.2" stroke-dashoffset="1.58"/><path d="M135.25 211.62A68.8 68.8 0 0 1 128.08 192.11" stroke-dashoffset="1.64"/><path d="M133.41 212.64A70.9 70.9 0 0 1 126.02 192.53" stroke-dashoffset="0.09"/><path d="M131.58 213.65A73 73 0 0 1 123.97 192.95" stroke-dashoffset="1.24"/><path d="M129.74 214.67A75.1 75.1 0 0 1 121.91 193.37" stroke-dashoffset="1.95"/><path d="M127.9 215.68A77.2 77.2 0 0 1 119.85 193.79" stroke-dashoffset="0.17"/><path d="M126.06 216.69A79.3 79.3 0 0 1 117.79 194.21" stroke-dashoffset="0.58"/><path d="M124.22 217.71A81.4 81.4 0 0 1 115.73 194.63" stroke-dashoffset="2.65"/><path d="M122.38 218.72A83.5 83.5 0 0 1 113.68 195.05" stroke-dashoffset="1.94"/><path d="M120.54 219.74A85.6 85.6 0 0 1 111.62 195.46" stroke-dashoffset="0.24"/><path d="M118.7 220.75A87.7 87.7 0 0 1 109.56 195.88" stroke-dashoffset="0.68"/><path d="M116.86 221.76A89.8 89.8 0 0 1 107.5 196.3" stroke-dashoffset="1.27"/><path d="M115.03 222.78A91.9 91.9 0 0 1 105.44 196.72" stroke-dashoffset="1.11"/><path d="M113.19 223.79A94 94 0 0 1 103.39 197.14" stroke-dashoffset="1.48"/><path d="M111.35 224.81A96.1 96.1 0 0 1 101.33 197.56" stroke-dashoffset="2.09"/><path d="M109.51 225.82A98.2 98.2 0 0 1 99.27 197.98" stroke-dashoffset="2.15"/><path d="M127.59 189.42A68.8 68.8 0 0 1 127.17 170.41" stroke-dashoffset="1.09"/><path d="M125.52 189.76A70.9 70.9 0 0 1 125.08 170.17" stroke-dashoffset="1.19"/><path d="M123.44 190.09A73 73 0 0 1 122.99 169.93" stroke-dashoffset="0.02"/><path d="M121.37 190.43A75.1 75.1 0 0 1 120.91 169.68" stroke-dashoffset="0.88"/><path d="M119.3 190.77A77.2 77.2 0 0 1 118.82 169.44" stroke-dashoffset="2.54"/><path d="M117.22 191.1A79.3 79.3 0 0 1 116.74 169.19" stroke-dashoffset="0.20"/><path d="M115.15 191.44A81.4 81.4 0 0 1 114.65 168.95" stroke-dashoffset="1.49"/><path d="M113.08 191.78A83.5 83.5 0 0 1 112.56 168.71" stroke-dashoffset="0.60"/><path d="M111.01 192.11A85.6 85.6 0 0 1 110.48 168.46" stroke-dashoffset="2.30"/><path d="M108.93 192.45A87.7 87.7 0 0 1 108.39 168.22" stroke-dashoffset="0.58"/><path d="M106.86 192.79A89.8 89.8 0 0 1 106.31 167.98" stroke-dashoffset="1.40"/><path d="M104.79 193.12A91.9 91.9 0 0 1 104.22 167.73" stroke-dashoffset="0.80"/><path d="M102.71 193.46A94 94 0 0 1 102.14 167.49" stroke-dashoffset="2.67"/><path d="M100.64 193.8A96.1 96.1 0 0 1 100.05 167.24" stroke-dashoffset="0.33"/><path d="M98.57 194.13A98.2 98.2 0 0 1 97.96 167" stroke-dashoffset="1.87"/><path d="M127.54 167.7A68.8 68.8 0 0 1 132.76 150.16" stroke-dashoffset="1.83"/><path d="M125.46 167.37A70.9 70.9 0 0 1 130.85 149.3" stroke-dashoffset="2.69"/><path d="M123.39 167.05A73 73 0 0 1 128.93 148.44" stroke-dashoffset="1.46"/><path d="M121.31 166.72A75.1 75.1 0 0 1 127.02 147.58" stroke-dashoffset="2.73"/><path d="M119.24 166.39A77.2 77.2 0 0 1 125.1 146.72" stroke-dashoffset="0.17"/><path d="M117.16 166.07A79.3 79.3 0 0 1 123.19 145.86" stroke-dashoffset="1.78"/><path d="M115.09 165.74A81.4 81.4 0 0 1 121.27 144.99" stroke-dashoffset="2.77"/><path d="M113.02 165.42A83.5 83.5 0 0 1 119.36 144.13" stroke-dashoffset="0.16"/><path d="M110.94 165.09A85.6 85.6 0 0 1 117.44 143.27" stroke-dashoffset="0.07"/><path d="M108.87 164.76A87.7 87.7 0 0 1 115.53 142.41" stroke-dashoffset="1.79"/><path d="M106.79 164.44A89.8 89.8 0 0 1 113.61 141.55" stroke-dashoffset="1.25"/><path d="M104.72 164.11A91.9 91.9 0 0 1 111.7 140.68" stroke-dashoffset="2.13"/><path d="M102.64 163.78A94 94 0 0 1 109.78 139.82" stroke-dashoffset="0.55"/><path d="M100.57 163.46A96.1 96.1 0 0 1 107.87 138.96" stroke-dashoffset="1.35"/><path d="M98.49 163.13A98.2 98.2 0 0 1 105.95 138.1" stroke-dashoffset="2.14"/><path d="M133.93 147.69A68.8 68.8 0 0 1 143.68 133.15" stroke-dashoffset="0.94"/><path d="M132.05 146.75A70.9 70.9 0 0 1 142.1 131.76" stroke-dashoffset="0.34"/><path d="M130.18 145.82A73 73 0 0 1 140.52 130.38" stroke-dashoffset="0.24"/><path d="M128.3 144.88A75.1 75.1 0 0 1 138.93 129" stroke-dashoffset="0.50"/><path d="M126.42 143.94A77.2 77.2 0 0 1 137.35 127.62" stroke-dashoffset="0.57"/><path d="M124.54 143A79.3 79.3 0 0 1 135.77 126.24" stroke-dashoffset="1.96"/><path d="M122.66 142.07A81.4 81.4 0 0 1 134.19 124.86" stroke-dashoffset="1.57"/><path d="M120.78 141.13A83.5 83.5 0 0 1 132.61 123.48" stroke-dashoffset="1.40"/><path d="M118.9 140.19A85.6 85.6 0 0 1 131.02 122.09" stroke-dashoffset="0.94"/><path d="M117.02 139.26A87.7 87.7 0 0 1 129.44 120.71" stroke-dashoffset="2.18"/><path d="M115.14 138.32A89.8 89.8 0 0 1 127.86 119.33" stroke-dashoffset="2.52"/><path d="M113.26 137.38A91.9 91.9 0 0 1 126.28 117.95" stroke-dashoffset="2.95"/><path d="M111.38 136.44A94 94 0 0 1 124.7 116.57" stroke-dashoffset="1.33"/><path d="M109.5 135.51A96.1 96.1 0 0 1 123.12 115.19" stroke-dashoffset="0.33"/><path d="M107.62 134.57A98.2 98.2 0 0 1 121.53 113.81" stroke-dashoffset="0.23"/><path d="M145.52 131.12A68.8 68.8 0 0 1 159.01 120.07" stroke-dashoffset="0.24"/><path d="M143.99 129.68A70.9 70.9 0 0 1 157.9 118.29" stroke-dashoffset="1.26"/><path d="M142.47 128.23A73 73 0 0 1 156.78 116.51" stroke-dashoffset="2.66"/><path d="M140.94 126.79A75.1 75.1 0 0 1 155.67 114.73" stroke-dashoffset="1.68"/><path d="M139.42 125.35A77.2 77.2 0 0 1 154.56 112.95" stroke-dashoffset="2.28"/><path d="M137.89 123.9A79.3 79.3 0 0 1 153.44 111.17" stroke-dashoffset="1.14"/><path d="M136.37 122.46A81.4 81.4 0 0 1 152.33 109.39" stroke-dashoffset="2.31"/><path d="M134.84 121.02A83.5 83.5 0 0 1 151.21 107.61" stroke-dashoffset="0.93"/><path d="M133.32 119.57A85.6 85.6 0 0 1 150.1 105.83" stroke-dashoffset="2.41"/><path d="M131.79 118.13A87.7 87.7 0 0 1 148.99 104.05" stroke-dashoffset="0.26"/><path d="M130.26 116.69A89.8 89.8 0 0 1 147.87 102.27" stroke-dashoffset="2.12"/><path d="M128.74 115.24A91.9 91.9 0 0 1 146.76 100.49" stroke-dashoffset="0.59"/><path d="M127.21 113.8A94 94 0 0 1 145.65 98.71" stroke-dashoffset="1.62"/><path d="M125.69 112.36A96.1 96.1 0 0 1 144.53 96.93" stroke-dashoffset="1.34"/><path d="M124.16 110.92A98.2 98.2 0 0 1 143.42 95.15" stroke-dashoffset="0.97"/><path d="M161.36 118.67A68.8 68.8 0 0 1 177.32 112.05" stroke-dashoffset="2.21"/><path d="M160.32 116.84A70.9 70.9 0 0 1 176.76 110.02" stroke-dashoffset="1.42"/><path d="M159.28 115.02A73 73 0 0 1 176.21 108" stroke-dashoffset="1.89"/><path d="M158.23 113.2A75.1 75.1 0 0 1 175.65 105.97" stroke-dashoffset="0.74"/><path d="M157.19 111.38A77.2 77.2 0 0 1 175.1 103.95" stroke-dashoffset="1.88"/><path d="M156.15 109.55A79.3 79.3 0 0 1 174.54 101.92" stroke-dashoffset="1.21"/><path d="M155.11 107.73A81.4 81.4 0 0 1 173.99 99.89" stroke-dashoffset="1.13"/><path d="M154.07 105.91A83.5 83.5 0 0 1 173.43 97.87" stroke-dashoffset="1.39"/><path d="M153.02 104.08A85.6 85.6 0 0 1 172.88 95.84" stroke-dashoffset="2.41"/><path d="M151.98 102.26A87.7 87.7 0 0 1 172.32 93.82" stroke-dashoffset="0.19"/><path d="M150.94 100.44A89.8 89.8 0 0 1 171.76 91.79" stroke-dashoffset="0.58"/><path d="M149.9 98.61A91.9 91.9 0 0 1 171.21 89.77" stroke-dashoffset="0.19"/><path d="M148.86 96.79A94 94 0 0 1 170.65 87.74" stroke-dashoffset="1.82"/><path d="M147.81 94.97A96.1 96.1 0 0 1 170.1 85.72" stroke-dashoffset="1.09"/><path d="M146.77 93.14A98.2 98.2 0 0 1 169.54 83.69" stroke-dashoffset="1.00"/><path d="M179.97 111.38A68.8 68.8 0 0 1 194.54 109.61" stroke-dashoffset="2.86"/><path d="M179.5 109.33A70.9 70.9 0 0 1 194.51 107.51" stroke-dashoffset="0.13"/><path d="M179.02 107.28A73 73 0 0 1 194.48 105.41" stroke-dashoffset="2.24"/><path d="M178.55 105.24A75.1 75.1 0 0 1 194.45 103.31" stroke-dashoffset="2.07"/><path d="M178.07 103.19A77.2 77.2 0 0 1 194.42 101.21" stroke-dashoffset="2.77"/><path d="M177.6 101.15A79.3 79.3 0 0 1 194.39 99.11" stroke-dashoffset="0.89"/><path d="M177.13 99.1A81.4 81.4 0 0 1 194.36 97.01" stroke-dashoffset="2.16"/><path d="M176.65 97.06A83.5 83.5 0 0 1 194.33 94.91" stroke-dashoffset="1.79"/><path d="M176.18 95.01A85.6 85.6 0 0 1 194.3 92.81" stroke-dashoffset="2.42"/><path d="M175.7 92.96A87.7 87.7 0 0 1 194.27 90.71" stroke-dashoffset="2.84"/><path d="M175.23 90.92A89.8 89.8 0 0 1 194.24 88.61" stroke-dashoffset="0.20"/><path d="M174.76 88.87A91.9 91.9 0 0 1 194.21 86.51" stroke-dashoffset="2.48"/><path d="M174.28 86.83A94 94 0 0 1 194.18 84.41" stroke-dashoffset="0.32"/><path d="M173.81 84.78A96.1 96.1 0 0 1 194.15 82.31" stroke-dashoffset="2.15"/><path d="M173.33 82.73A98.2 98.2 0 0 1 194.13 80.21" stroke-dashoffset="1.40"/><path d="M197.27 109.62A68.8 68.8 0 0 1 210.75 111.31" stroke-dashoffset="2.33"/><path d="M197.33 107.52A70.9 70.9 0 0 1 211.22 109.26" stroke-dashoffset="2.37"/><path d="M197.38 105.42A73 73 0 0 1 211.68 107.22" stroke-dashoffset="2.74"/><path d="M197.44 103.32A75.1 75.1 0 0 1 212.15 105.17" stroke-dashoffset="2.44"/><path d="M197.49 101.23A77.2 77.2 0 0 1 212.62 103.12" stroke-dashoffset="0.40"/><path d="M197.55 99.13A79.3 79.3 0 0 1 213.08 101.07" stroke-dashoffset="1.49"/><path d="M197.6 97.03A81.4 81.4 0 0 1 213.55 99.03" stroke-dashoffset="0.03"/><path d="M197.65 94.93A83.5 83.5 0 0 1 214.01 96.98" stroke-dashoffset="2.79"/><path d="M197.71 92.83A85.6 85.6 0 0 1 214.48 94.93" stroke-dashoffset="0.91"/><path d="M197.76 90.73A87.7 87.7 0 0 1 214.94 92.88" stroke-dashoffset="2.08"/><path d="M197.82 88.63A89.8 89.8 0 0 1 215.41 90.83" stroke-dashoffset="0.45"/><path d="M197.87 86.53A91.9 91.9 0 0 1 215.87 88.79" stroke-dashoffset="0.71"/><path d="M197.92 84.43A94 94 0 0 1 216.34 86.74" stroke-dashoffset="2.58"/><path d="M197.98 82.33A96.1 96.1 0 0 1 216.81 84.69" stroke-dashoffset="1.38"/><path d="M198.03 80.23A98.2 98.2 0 0 1 217.27 82.64" stroke-dashoffset="2.35"/><path d="M213.41 111.97A68.8 68.8 0 0 1 225.51 116.49" stroke-dashoffset="1.79"/><path d="M213.96 109.94A70.9 70.9 0 0 1 226.42 114.6" stroke-dashoffset="1.54"/><path d="M214.5 107.92A73 73 0 0 1 227.34 112.71" stroke-dashoffset="1.18"/><path d="M215.05 105.89A75.1 75.1 0 0 1 228.25 110.82" stroke-dashoffset="0.48"/><path d="M215.6 103.86A77.2 77.2 0 0 1 229.17 108.93" stroke-dashoffset="1.22"/><path d="M216.14 101.83A79.3 79.3 0 0 1 230.08 107.04" stroke-dashoffset="1.95"/><path d="M216.69 99.81A81.4 81.4 0 0 1 231 105.15" stroke-dashoffset="1.45"/><path d="M217.24 97.78A83.5 83.5 0 0 1 231.92 103.26" stroke-dashoffset="1.63"/><path d="M217.78 95.75A85.6 85.6 0 0 1 232.83 101.37" stroke-dashoffset="0.48"/><path d="M218.33 93.72A87.7 87.7 0 0 1 233.75 99.48" stroke-dashoffset="1.28"/><path d="M218.88 91.7A89.8 89.8 0 0 1 234.66 97.59" stroke-dashoffset="0.32"/><path d="M219.42 89.67A91.9 91.9 0 0 1 235.58 95.7" stroke-dashoffset="0.22"/><path d="M219.97 87.64A94 94 0 0 1 236.5 93.81" stroke-dashoffset="1.87"/><path d="M220.52 85.61A96.1 96.1 0 0 1 237.41 91.92" stroke-dashoffset="0.63"/><path d="M221.06 83.59A98.2 98.2 0 0 1 238.33 90.03" stroke-dashoffset="1.26"/><path d="M227.94 117.73A68.8 68.8 0 0 1 237.37 123.81" stroke-dashoffset="2.97"/><path d="M228.94 115.88A70.9 70.9 0 0 1 238.65 122.14" stroke-dashoffset="2.92"/><path d="M229.93 114.03A73 73 0 0 1 239.92 120.47" stroke-dashoffset="0.52"/><path d="M230.92 112.18A75.1 75.1 0 0 1 241.2 118.81" stroke-dashoffset="0.40"/><path d="M231.91 110.32A77.2 77.2 0 0 1 242.48 117.14" stroke-dashoffset="1.38"/><path d="M232.9 108.47A79.3 79.3 0 0 1 243.76 115.47" stroke-dashoffset="2.67"/><path d="M233.89 106.62A81.4 81.4 0 0 1 245.03 113.81" stroke-dashoffset="0.70"/><path d="M234.88 104.77A83.5 83.5 0 0 1 246.31 112.14" stroke-dashoffset="1.62"/><path d="M235.87 102.92A85.6 85.6 0 0 1 247.59 110.47" stroke-dashoffset="2.32"/><path d="M236.86 101.06A87.7 87.7 0 0 1 248.87 108.81" stroke-dashoffset="2.28"/><path d="M237.85 99.21A89.8 89.8 0 0 1 250.15 107.14" stroke-dashoffset="2.34"/><path d="M238.84 97.36A91.9 91.9 0 0 1 251.42 105.47" stroke-dashoffset="0.88"/><path d="M239.83 95.51A94 94 0 0 1 252.7 103.81" stroke-dashoffset="0.84"/><path d="M240.82 93.66A96.1 96.1 0 0 1 253.98 102.14" stroke-dashoffset="0.80"/><path d="M241.81 91.81A98.2 98.2 0 0 1 255.26 100.48" stroke-dashoffset="0.76"/><path d="M239.51 125.51A68.8 68.8 0 0 1 246.66 132.4" stroke-dashoffset="0.78"/><path d="M240.85 123.9A70.9 70.9 0 0 1 248.22 131" stroke-dashoffset="1.32"/><path d="M242.19 122.29A73 73 0 0 1 249.79 129.59" stroke-dashoffset="0.56"/><path d="M243.54 120.67A75.1 75.1 0 0 1 251.35 128.19" stroke-dashoffset="0.71"/><path d="M244.88 119.06A77.2 77.2 0 0 1 252.91 126.79" stroke-dashoffset="0.84"/><path d="M246.22 117.44A79.3 79.3 0 0 1 254.47 125.38" stroke-dashoffset="2.72"/><path d="M247.57 115.83A81.4 81.4 0 0 1 256.03 123.98" stroke-dashoffset="0.56"/><path d="M248.91 114.21A83.5 83.5 0 0 1 257.59 122.57" stroke-dashoffset="0.19"/><path d="M250.25 112.6A85.6 85.6 0 0 1 259.16 121.17" stroke-dashoffset="0.75"/><path d="M251.59 110.99A87.7 87.7 0 0 1 260.72 119.77" stroke-dashoffset="0.74"/><path d="M252.94 109.37A89.8 89.8 0 0 1 262.28 118.36" stroke-dashoffset="1.58"/><path d="M254.28 107.76A91.9 91.9 0 0 1 263.84 116.96" stroke-dashoffset="1.95"/><path d="M255.62 106.14A94 94 0 0 1 265.4 115.55" stroke-dashoffset="0.30"/><path d="M256.97 104.53A96.1 96.1 0 0 1 266.96 114.15" stroke-dashoffset="1.39"/><path d="M258.31 102.91A98.2 98.2 0 0 1 268.53 112.75" stroke-dashoffset="0.11"/><path d="M248.45 134.47A68.8 68.8 0 0 1 254 142.18" stroke-dashoffset="0.01"/><path d="M250.07 133.13A70.9 70.9 0 0 1 255.78 141.08" stroke-dashoffset="2.65"/><path d="M251.68 131.79A73 73 0 0 1 257.57 139.97" stroke-dashoffset="0.69"/><path d="M253.3 130.45A75.1 75.1 0 0 1 259.35 138.87" stroke-dashoffset="1.34"/><path d="M254.92 129.11A77.2 77.2 0 0 1 261.14 137.76" stroke-dashoffset="1.12"/><path d="M256.53 127.77A79.3 79.3 0 0 1 262.92 136.66" stroke-dashoffset="2.63"/><path d="M258.15 126.43A81.4 81.4 0 0 1 264.71 135.55" stroke-dashoffset="0.70"/><path d="M259.77 125.09A83.5 83.5 0 0 1 266.49 134.44" stroke-dashoffset="0.15"/><path d="M261.38 123.75A85.6 85.6 0 0 1 268.28 133.34" stroke-dashoffset="1.80"/><path d="M263 122.41A87.7 87.7 0 0 1 270.06 132.23" stroke-dashoffset="2.48"/><path d="M264.61 121.07A89.8 89.8 0 0 1 271.85 131.13" stroke-dashoffset="0.58"/><path d="M266.23 119.72A91.9 91.9 0 0 1 273.64 130.02" stroke-dashoffset="0.23"/><path d="M267.85 118.38A94 94 0 0 1 275.42 128.92" stroke-dashoffset="1.54"/><path d="M269.46 117.04A96.1 96.1 0 0 1 277.21 127.81" stroke-dashoffset="0.53"/><path d="M271.08 115.7A98.2 98.2 0 0 1 278.99 126.71" stroke-dashoffset="1.81"/><path d="M255.39 144.54A68.8 68.8 0 0 1 258.46 150.66" stroke-dashoffset="2.32"/><path d="M257.22 143.5A70.9 70.9 0 0 1 260.38 149.81" stroke-dashoffset="1.99"/><path d="M259.05 142.47A73 73 0 0 1 262.3 148.96" stroke-dashoffset="0.02"/><path d="M260.87 141.44A75.1 75.1 0 0 1 264.22 148.12" stroke-dashoffset="1.91"/><path d="M262.7 140.4A77.2 77.2 0 0 1 266.15 147.27" stroke-dashoffset="2.13"/><path d="M264.53 139.37A79.3 79.3 0 0 1 268.07 146.42" stroke-dashoffset="1.05"/><path d="M266.36 138.34A81.4 81.4 0 0 1 269.99 145.58" stroke-dashoffset="0.11"/><path d="M268.19 137.3A83.5 83.5 0 0 1 271.91 144.73" stroke-dashoffset="1.02"/><path d="M270.01 136.27A85.6 85.6 0 0 1 273.83 143.88" stroke-dashoffset="0.13"/><path d="M271.84 135.24A87.7 87.7 0 0 1 275.75 143.04" stroke-dashoffset="3.00"/><path d="M273.67 134.2A89.8 89.8 0 0 1 277.68 142.19" stroke-dashoffset="0.11"/><path d="M275.5 133.17A91.9 91.9 0 0 1 279.6 141.34" stroke-dashoffset="2.20"/><path d="M277.33 132.14A94 94 0 0 1 281.52 140.49" stroke-dashoffset="2.74"/><path d="M279.15 131.1A96.1 96.1 0 0 1 283.44 139.65" stroke-dashoffset="2.44"/><path d="M280.98 130.07A98.2 98.2 0 0 1 285.36 138.8" stroke-dashoffset="2.46"/><path d="M259.51 153.18A68.8 68.8 0 0 1 261.85 160.19" stroke-dashoffset="1.23"/><path d="M261.47 152.41A70.9 70.9 0 0 1 263.87 159.64" stroke-dashoffset="1.12"/><path d="M263.42 151.64A73 73 0 0 1 265.9 159.08" stroke-dashoffset="1.86"/><path d="M265.37 150.87A75.1 75.1 0 0 1 267.92 158.53" stroke-dashoffset="0.23"/><path d="M267.33 150.1A77.2 77.2 0 0 1 269.95 157.97" stroke-dashoffset="0.09"/><path d="M269.28 149.33A79.3 79.3 0 0 1 271.97 157.42" stroke-dashoffset="1.49"/><path d="M271.24 148.57A81.4 81.4 0 0 1 274 156.86" stroke-dashoffset="1.45"/><path d="M273.19 147.8A83.5 83.5 0 0 1 276.02 156.3" stroke-dashoffset="1.22"/><path d="M275.14 147.03A85.6 85.6 0 0 1 278.05 155.75" stroke-dashoffset="2.39"/><path d="M277.1 146.26A87.7 87.7 0 0 1 280.07 155.19" stroke-dashoffset="1.99"/><path d="M279.05 145.49A89.8 89.8 0 0 1 282.1 154.64" stroke-dashoffset="0.46"/><path d="M281 144.72A91.9 91.9 0 0 1 284.12 154.08" stroke-dashoffset="1.60"/><path d="M282.96 143.95A94 94 0 0 1 286.15 153.53" stroke-dashoffset="1.96"/><path d="M284.91 143.18A96.1 96.1 0 0 1 288.17 152.97" stroke-dashoffset="1.19"/><path d="M286.87 142.41A98.2 98.2 0 0 1 290.2 152.42" stroke-dashoffset="0.81"/><path d="M262.52 162.85A68.8 68.8 0 0 1 263.52 168.06" stroke-dashoffset="2.96"/><path d="M264.57 162.37A70.9 70.9 0 0 1 265.59 167.74" stroke-dashoffset="2.00"/><path d="M266.61 161.9A73 73 0 0 1 267.67 167.43" stroke-dashoffset="1.25"/><path d="M268.66 161.42A75.1 75.1 0 0 1 269.75 167.11" stroke-dashoffset="0.15"/><path d="M270.7 160.95A77.2 77.2 0 0 1 271.82 166.8" stroke-dashoffset="2.24"/><path d="M272.75 160.48A79.3 79.3 0 0 1 273.9 166.48" stroke-dashoffset="2.65"/><path d="M274.79 160A81.4 81.4 0 0 1 275.98 166.16" stroke-dashoffset="1.24"/><path d="M276.84 159.53A83.5 83.5 0 0 1 278.05 165.85" stroke-dashoffset="0.05"/><path d="M278.88 159.05A85.6 85.6 0 0 1 280.13 165.53" stroke-dashoffset="2.30"/><path d="M280.93 158.58A87.7 87.7 0 0 1 282.2 165.22" stroke-dashoffset="2.41"/><path d="M282.98 158.1A89.8 89.8 0 0 1 284.28 164.9" stroke-dashoffset="1.93"/><path d="M285.02 157.63A91.9 91.9 0 0 1 286.36 164.59" stroke-dashoffset="1.17"/><path d="M287.07 157.15A94 94 0 0 1 288.43 164.27" stroke-dashoffset="1.21"/><path d="M289.11 156.68A96.1 96.1 0 0 1 290.51 163.95" stroke-dashoffset="2.83"/><path d="M291.16 156.2A98.2 98.2 0 0 1 292.58 163.64" stroke-dashoffset="1.30"/><path d="M263.88 170.77A68.8 68.8 0 0 1 264.27 176.51" stroke-dashoffset="0.47"/><path d="M265.96 170.54A70.9 70.9 0 0 1 266.37 176.45" stroke-dashoffset="0.34"/><path d="M268.05 170.31A73 73 0 0 1 268.47 176.39" stroke-dashoffset="0.27"/><path d="M270.14 170.07A75.1 75.1 0 0 1 270.57 176.33" stroke-dashoffset="1.73"/><path d="M272.22 169.84A77.2 77.2 0 0 1 272.67 176.27" stroke-dashoffset="1.09"/><path d="M274.31 169.61A79.3 79.3 0 0 1 274.77 176.22" stroke-dashoffset="2.32"/><path d="M276.4 169.37A81.4 81.4 0 0 1 276.87 176.16" stroke-dashoffset="0.39"/><path d="M278.49 169.14A83.5 83.5 0 0 1 278.97 176.1" stroke-dashoffset="0.16"/><path d="M280.57 168.91A85.6 85.6 0 0 1 281.07 176.04" stroke-dashoffset="0.43"/><path d="M282.66 168.68A87.7 87.7 0 0 1 283.17 175.99" stroke-dashoffset="2.42"/><path d="M284.75 168.44A89.8 89.8 0 0 1 285.27 175.93" stroke-dashoffset="1.19"/><path d="M286.83 168.21A91.9 91.9 0 0 1 287.37 175.87" stroke-dashoffset="1.72"/><path d="M288.92 167.98A94 94 0 0 1 289.46 175.81" stroke-dashoffset="2.78"/><path d="M291.01 167.75A96.1 96.1 0 0 1 291.56 175.75" stroke-dashoffset="2.21"/><path d="M293.09 167.51A98.2 98.2 0 0 1 293.66 175.7" stroke-dashoffset="0.52"/></g>
<path d="M295 178.64A99.5 99.5 0 0 1 282.5 226.69M262.3 178.56A66.8 66.8 0 0 1 253.9 210.82M281.39 228.62A99.5 99.5 0 0 1 247.48 263.24M253.17 212.12A66.8 66.8 0 0 1 230.4 235.36M245.57 264.38A99.5 99.5 0 0 1 208.15 277.09M229.12 236.12A66.8 66.8 0 0 1 203.99 244.66M205.94 277.35A99.5 99.5 0 0 1 167.92 274M202.51 244.83A66.8 66.8 0 0 1 176.98 242.58M165.79 273.36A99.5 99.5 0 0 1 133.85 256.5M175.56 242.15A66.8 66.8 0 0 1 154.11 230.83M132.12 255.1A99.5 99.5 0 0 1 109.9 229.13M152.95 229.89A66.8 66.8 0 0 1 138.04 212.46M108.79 227.21A99.5 99.5 0 0 1 97.83 197.38M137.29 211.17A66.8 66.8 0 0 1 129.93 191.14M97.43 195.2A99.5 99.5 0 0 1 96.78 165.99M129.66 189.68A66.8 66.8 0 0 1 129.22 170.07M97.08 163.79A99.5 99.5 0 0 1 105.12 136.78M129.42 168.59A66.8 66.8 0 0 1 134.83 150.46M106.08 134.77A99.5 99.5 0 0 1 121.13 112.3M135.47 149.11A66.8 66.8 0 0 1 145.57 134.02M122.62 110.66A99.5 99.5 0 0 1 143.47 93.59M146.57 132.92A66.8 66.8 0 0 1 160.57 121.46M145.37 92.45A99.5 99.5 0 0 1 170.04 82.21M161.85 120.7A66.8 66.8 0 0 1 178.41 113.82M172.19 81.67A99.5 99.5 0 0 1 194.98 78.9M179.85 113.46A66.8 66.8 0 0 1 195.15 111.6M197.2 78.91A99.5 99.5 0 0 1 218.4 81.57M196.64 111.61A66.8 66.8 0 0 1 210.88 113.39M220.56 82.11A99.5 99.5 0 0 1 239.67 89.24M212.33 113.75A66.8 66.8 0 0 1 225.16 118.54M241.66 90.25A99.5 99.5 0 0 1 256.74 99.98M226.49 119.22A66.8 66.8 0 0 1 236.61 125.75M258.47 101.36A99.5 99.5 0 0 1 270.07 112.52M237.78 126.68A66.8 66.8 0 0 1 245.56 134.17M271.52 114.21A99.5 99.5 0 0 1 280.55 126.76M246.54 135.3A66.8 66.8 0 0 1 252.6 143.73M281.68 128.67A99.5 99.5 0 0 1 286.9 139.07M253.36 145.02A66.8 66.8 0 0 1 256.86 152M287.75 141.12A99.5 99.5 0 0 1 291.68 152.91M257.44 153.37A66.8 66.8 0 0 1 260.07 161.29M292.22 155.06A99.5 99.5 0 0 1 294 164.3M260.44 162.73A66.8 66.8 0 0 1 261.63 168.94M294.29 166.51A99.5 99.5 0 0 1 294.98 176.53M261.82 170.41A66.8 66.8 0 0 1 262.29 177.14" fill="none" stroke="#505050" stroke-width="1.0"/>
<path d="M261.8 177.82L295.5 177.53M253.1 211.22L282.38 227.91M229.5 235.32L246.79 264.25M203.19 244.25L207.1 277.72M176.41 241.89L166.71 274.17M153.84 229.98L132.66 256.19M138.09 211.56L108.91 228.42M130.28 190.32L97.13 196.38M129.81 169.4L96.43 164.82M135.59 149.99L105.14 135.55M146.44 133.8L121.5 111.14M161.46 121.5L144.16 92.58M179.25 114.12L170.99 81.45M195.89 112.1L196.09 78.4M211.48 114.06L219.61 81.35M225.6 119.32L240.89 89.3M236.88 126.6L257.92 100.27M245.68 135.06L271.18 113.03M252.55 144.63L281.55 127.46M256.69 152.88L287.79 139.9M259.77 162.13L292.44 153.86M261.23 169.74L294.64 165.34" fill="none" stroke="#666" stroke-width="1.8"/>
<g fill="#c0143c"><circle cx="267.1" cy="191.55" r="0.95"/><circle cx="288.93" cy="203.73" r="0.95"/><circle cx="276.21" cy="182.18" r="0.95"/><circle cx="285.41" cy="201.36" r="0.95"/><circle cx="281.16" cy="214.09" r="0.95"/><circle cx="267.87" cy="186.35" r="0.95"/><circle cx="258.42" cy="206.23" r="0.95"/><circle cx="268.84" cy="216.84" r="0.95"/><circle cx="281.11" cy="192.71" r="0.95"/><circle cx="267.93" cy="214.21" r="0.95"/><circle cx="286.16" cy="183.49" r="0.95"/><circle cx="285.71" cy="207.53" r="0.95"/><circle cx="246.58" cy="251.04" r="0.95"/><circle cx="241.48" cy="237.4" r="0.95"/><circle cx="253.97" cy="242.55" r="0.95"/><circle cx="214.09" cy="271.36" r="0.95"/><circle cx="224.25" cy="260.3" r="0.95"/><circle cx="229.42" cy="251.73" r="0.95"/><circle cx="207.29" cy="250.24" r="0.95"/><circle cx="221.18" cy="244.38" r="0.95"/><circle cx="199.03" cy="269.13" r="0.95"/><circle cx="180.49" cy="251.68" r="0.95"/><circle cx="202.11" cy="262.94" r="0.95"/><circle cx="176.84" cy="265.22" r="0.95"/><circle cx="202.99" cy="272.9" r="0.95"/><circle cx="193.53" cy="259.18" r="0.95"/><circle cx="153.39" cy="252.01" r="0.95"/><circle cx="142.75" cy="254.75" r="0.95"/><circle cx="162.57" cy="252.19" r="0.95"/><circle cx="164.97" cy="246.69" r="0.95"/><circle cx="129.41" cy="237.71" r="0.95"/><circle cx="133.46" cy="236.21" r="0.95"/><circle cx="144.11" cy="224.15" r="0.95"/><circle cx="141.91" cy="241.52" r="0.95"/><circle cx="118.08" cy="207.77" r="0.95"/><circle cx="106.17" cy="203.53" r="0.95"/><circle cx="103.83" cy="202.57" r="0.95"/><circle cx="120.84" cy="214.21" r="0.95"/><circle cx="129.8" cy="204.78" r="0.95"/><circle cx="115.31" cy="188.29" r="0.95"/><circle cx="102.86" cy="183.84" r="0.95"/><circle cx="110.76" cy="181.62" r="0.95"/><circle cx="130.42" cy="156.08" r="0.95"/><circle cx="128.41" cy="155.8" r="0.95"/><circle cx="122.89" cy="147.77" r="0.95"/><circle cx="116.18" cy="148.4" r="0.95"/><circle cx="104.21" cy="161.75" r="0.95"/><circle cx="118.09" cy="155.25" r="0.95"/><circle cx="107.68" cy="148.4" r="0.95"/><circle cx="102.5" cy="160.03" r="0.95"/><circle cx="110.05" cy="163.13" r="0.95"/><circle cx="119.91" cy="121.19" r="0.95"/><circle cx="131.38" cy="143.92" r="0.95"/><circle cx="132.7" cy="124.44" r="0.95"/><circle cx="115.79" cy="130.88" r="0.95"/><circle cx="139.52" cy="131.86" r="0.95"/><circle cx="122.48" cy="124.43" r="0.95"/><circle cx="156.72" cy="119.17" r="0.95"/><circle cx="146.22" cy="106.95" r="0.95"/><circle cx="153.04" cy="119.27" r="0.95"/><circle cx="137.64" cy="113.7" r="0.95"/><circle cx="131.46" cy="108.5" r="0.95"/><circle cx="146.21" cy="119.51" r="0.95"/><circle cx="134.22" cy="103.47" r="0.95"/><circle cx="140.18" cy="111.51" r="0.95"/><circle cx="158.51" cy="102.09" r="0.95"/><circle cx="160.68" cy="107.71" r="0.95"/><circle cx="160.17" cy="114.75" r="0.95"/><circle cx="159.53" cy="97.21" r="0.95"/><circle cx="170.4" cy="93.22" r="0.95"/><circle cx="161.41" cy="105.14" r="0.95"/><circle cx="153.1" cy="95.85" r="0.95"/><circle cx="179.84" cy="86.93" r="0.95"/><circle cx="207.06" cy="90.36" r="0.95"/><circle cx="234.34" cy="91.92" r="0.95"/><circle cx="224.48" cy="98.71" r="0.95"/><circle cx="248.96" cy="97.7" r="0.95"/><circle cx="241.03" cy="116.55" r="0.95"/><circle cx="249.21" cy="107.69" r="0.95"/><circle cx="248.87" cy="104.94" r="0.95"/><circle cx="240.07" cy="115.86" r="0.95"/><circle cx="249.16" cy="120.7" r="0.95"/><circle cx="250.74" cy="122.21" r="0.95"/><circle cx="243.4" cy="126.26" r="0.95"/><circle cx="245.56" cy="125.55" r="0.95"/><circle cx="243.99" cy="129.59" r="0.95"/><circle cx="263" cy="127.07" r="0.95"/><circle cx="265.88" cy="124.25" r="0.95"/><circle cx="275.7" cy="127.86" r="0.95"/><circle cx="268.17" cy="127.37" r="0.95"/><circle cx="278.1" cy="140.7" r="0.95"/><circle cx="255.51" cy="144.76" r="0.95"/><circle cx="263.24" cy="142.22" r="0.95"/><circle cx="272.45" cy="153.76" r="0.95"/><circle cx="270.05" cy="152.88" r="0.95"/><circle cx="265.43" cy="158.16" r="0.95"/><circle cx="277.82" cy="150.87" r="0.95"/><circle cx="263.2" cy="166.17" r="0.95"/><circle cx="280.19" cy="159.4" r="0.95"/><circle cx="264.89" cy="164.36" r="0.95"/><circle cx="280.11" cy="172.68" r="0.95"/><circle cx="281.95" cy="170.56" r="0.95"/><circle cx="268.04" cy="172.25" r="0.95"/><circle cx="281.93" cy="170.43" r="0.95"/></g>
<path d="M296.12 208.4A105 105 0 0 1 287.16 229.63" fill="none" stroke="#b3123a" stroke-width="1.4949999999999999"/>
<path d="M145.57 271.91A106 106 0 0 1 130.09 261.82" fill="none" stroke="#2e56a0" stroke-width="1.38"/>
<path d="M159.78 290.34A117.5 117.5 0 0 1 148.84 286.24" fill="none" stroke="#b3123a" stroke-width="1.38"/>
<path d="M120.44 268.8A117.5 117.5 0 0 1 94.26 238.04" fill="none" stroke="#b3123a" stroke-width="1.4949999999999999"/>
<path d="M80.17 198.11A117 117 0 0 1 79.47 163.33" fill="none" stroke="#b3123a" stroke-width="1.4949999999999999"/>
<path d="M89.8 127.08A117.5 117.5 0 0 1 107.91 100.08" fill="none" stroke="#b3123a" stroke-width="1.4949999999999999"/>
<path d="M133.45 68.74A126 126 0 0 1 138.3 66.13" fill="none" stroke="#b3123a" stroke-width="1.4949999999999999"/>
<path d="M230.2 79.3A105 105 0 0 1 236.7 81.82" fill="none" stroke="#111" stroke-width="1.4949999999999999"/>
<path d="M275.94 80.12A127 127 0 0 1 279.82 83.43" fill="none" stroke="#2e56a0" stroke-width="1.4949999999999999"/>
<path d="M279.82 83.43A127 127 0 0 1 290.62 94.25" fill="none" stroke="#b3123a" stroke-width="1.4949999999999999"/>
<path d="M304.75 133.81A118 118 0 0 1 307.4 140.96" fill="none" stroke="#b3123a" stroke-width="1.38"/>
<path d="M229.67 303.31A129.5 129.5 0 0 1 218.65 305.81" fill="none" stroke="#111" stroke-width="1.4949999999999999"/>
<path d="M86.58 238.28A124.3 124.3 0 0 1 81 226.77" fill="none" stroke="#2e56a0" stroke-width="1.1"/>
<path d="M81 226.77A124.3 124.3 0 0 1 77.02 215.98" fill="none" stroke="#b3123a" stroke-width="1.1"/>
<path d="M77.02 215.98A124.3 124.3 0 0 1 73.4 201.69" fill="none" stroke="#2e56a0" stroke-width="1.1"/>
<path d="M90.45 234.73A119.2 119.2 0 0 1 78.37 200.53" fill="none" stroke="#24418a" stroke-width="1.0"/>
<path d="M91.86 233.97A117.6 117.6 0 0 1 79.94 200.23" fill="none" stroke="#24418a" stroke-width="1.0"/>
<path d="M93.27 233.22A116 116 0 0 1 81.52 199.94" fill="none" stroke="#24418a" stroke-width="1.0"/>
<path d="M94.68 232.46A114.4 114.4 0 0 1 83.28 200.62" fill="none" stroke="#24418a" stroke-width="1.0"/>
<path d="M96.09 231.7A112.8 112.8 0 0 1 86.29 206.64" fill="none" stroke="#24418a" stroke-width="1.0"/>
<path d="M96.86 229.75A111.2 111.2 0 0 1 88.19 207.56" fill="none" stroke="#24418a" stroke-width="1.0"/>
<path d="M111.02 241.6A105.5 105.5 0 0 1 105.84 233.99" fill="none" stroke="#111" stroke-width="1.38"/>
<path d="M83 159.98A114 114 0 0 1 84.51 152.37" fill="none" stroke="#2e56a0" stroke-width="1.4949999999999999"/>
<path d="M90 160.56A107 107 0 0 1 91.24 154.33" fill="none" stroke="#2e56a0" stroke-width="1.4949999999999999"/>
<circle cx="203.7" cy="51.3" r="0.95" fill="#b3123a"/><circle cx="202.9" cy="59.4" r="0.95" fill="#2e56a0"/><circle cx="202.9" cy="61.5" r="0.95" fill="#2e56a0"/><circle cx="202.3" cy="65.6" r="0.95" fill="#2e56a0"/><circle cx="212.3" cy="68.3" r="0.95" fill="#2e56a0"/><circle cx="201.5" cy="69.6" r="0.95" fill="#2e56a0"/><circle cx="201" cy="72.8" r="0.95" fill="#b3123a"/><circle cx="239.8" cy="63.7" r="0.95" fill="#2e56a0"/><circle cx="250" cy="63.7" r="0.95" fill="#2e56a0"/><circle cx="244.1" cy="75" r="0.95" fill="#2e56a0"/><circle cx="244.6" cy="85.8" r="0.95" fill="#2e56a0"/><circle cx="258.1" cy="81.7" r="0.95" fill="#b3123a"/><circle cx="244" cy="85.2" r="0.95" fill="#2e56a0"/><circle cx="272.1" cy="97.9" r="0.95" fill="#2e56a0"/><circle cx="285.8" cy="107.3" r="0.95" fill="#b3123a"/><circle cx="290.4" cy="124.6" r="0.95" fill="#2e56a0"/><circle cx="298" cy="155.4" r="0.95" fill="#b3123a"/><circle cx="299.7" cy="169.7" r="0.95" fill="#b3123a"/><circle cx="304.3" cy="169" r="0.95" fill="#2e56a0"/><circle cx="311.2" cy="168.5" r="0.95" fill="#b3123a"/><circle cx="314.2" cy="168.5" r="0.95" fill="#111"/><circle cx="309.5" cy="168.5" r="0.95" fill="#b3123a"/><circle cx="160.2" cy="56.2" r="0.95" fill="#b3123a"/><circle cx="155.6" cy="66.1" r="0.95" fill="#2e56a0"/><circle cx="177.1" cy="66.1" r="0.95" fill="#2e56a0"/><circle cx="179" cy="74.5" r="0.95" fill="#2e56a0"/><circle cx="187.4" cy="57.5" r="0.95" fill="#2e56a0"/><circle cx="140.2" cy="79" r="0.95" fill="#2e56a0"/><circle cx="123.3" cy="90.3" r="0.95" fill="#2e56a0"/><circle cx="118.7" cy="97.9" r="0.95" fill="#2e56a0"/><circle cx="101.7" cy="91.2" r="0.95" fill="#2e56a0"/><circle cx="92.3" cy="118" r="0.95" fill="#2e56a0"/><circle cx="96.3" cy="119.4" r="0.95" fill="#2e56a0"/><circle cx="107.9" cy="118.6" r="0.95" fill="#b3123a"/><circle cx="99" cy="134.2" r="0.95" fill="#b3123a"/><circle cx="217.7" cy="299.4" r="0.95" fill="#111"/><circle cx="244.6" cy="286" r="0.95" fill="#2e56a0"/><circle cx="258" cy="262.5" r="0.95" fill="#b3123a"/><circle cx="195.3" cy="284" r="0.95" fill="#b3123a"/><circle cx="195.3" cy="293.2" r="0.95" fill="#b3123a"/><circle cx="285.8" cy="246.4" r="0.95" fill="#2e56a0"/><circle cx="281" cy="260.4" r="0.95" fill="#2e56a0"/><circle cx="295.8" cy="229.4" r="0.95" fill="#2e56a0"/><circle cx="301.2" cy="224" r="0.95" fill="#2e56a0"/><circle cx="306" cy="206" r="0.95" fill="#b3123a"/><circle cx="299" cy="224" r="0.95" fill="#2e56a0"/><circle cx="296" cy="229" r="0.95" fill="#2e56a0"/><circle cx="290" cy="233" r="0.95" fill="#2e56a0"/><circle cx="126" cy="260" r="0.95" fill="#2e56a0"/><circle cx="120" cy="258" r="0.95" fill="#2e56a0"/><circle cx="146" cy="292" r="0.95" fill="#2e56a0"/><circle cx="140" cy="306" r="0.95" fill="#2e56a0"/><circle cx="107" cy="268" r="0.95" fill="#b3123a"/><circle cx="118" cy="256" r="0.95" fill="#2e56a0"/><circle cx="72" cy="206" r="0.95" fill="#b3123a"/><circle cx="96" cy="200" r="0.95" fill="#2e56a0"/><circle cx="99" cy="202" r="0.95" fill="#2e56a0"/><circle cx="100" cy="235" r="0.95" fill="#2e56a0"/><circle cx="98" cy="242" r="0.95" fill="#2e56a0"/><circle cx="91" cy="238" r="0.95" fill="#b3123a"/><circle cx="84" cy="226" r="0.95" fill="#b3123a"/><circle cx="80" cy="230" r="0.95" fill="#b3123a"/><circle cx="85" cy="205" r="0.95" fill="#2e56a0"/><circle cx="100" cy="222" r="0.95" fill="#2e56a0"/><circle cx="96" cy="223" r="0.95" fill="#111"/><circle cx="166" cy="115" r="0.95" fill="#2e56a0"/><circle cx="152" cy="110" r="0.95" fill="#2e56a0"/><circle cx="275" cy="70" r="0.95" fill="#b3123a"/><circle cx="276.1" cy="247.24" r="0.8" fill="#2e56a0"/><circle cx="277.47" cy="248.41" r="0.8" fill="#2e56a0"/><circle cx="278.84" cy="249.58" r="0.8" fill="#2e56a0"/><circle cx="280.21" cy="250.75" r="0.8" fill="#2e56a0"/><circle cx="281.58" cy="251.92" r="0.8" fill="#2e56a0"/><circle cx="282.95" cy="253.09" r="0.8" fill="#2e56a0"/><circle cx="284.32" cy="254.26" r="0.8" fill="#2e56a0"/><circle cx="285.68" cy="255.42" r="0.8" fill="#2e56a0"/><circle cx="220.54" cy="77.97" r="0.8" fill="#2e56a0"/><circle cx="220.97" cy="76.23" r="0.8" fill="#2e56a0"/><circle cx="221.41" cy="74.48" r="0.8" fill="#2e56a0"/><circle cx="221.85" cy="72.73" r="0.8" fill="#2e56a0"/><circle cx="222.28" cy="70.99" r="0.8" fill="#2e56a0"/><circle cx="222.72" cy="69.24" r="0.8" fill="#2e56a0"/><circle cx="223.15" cy="67.5" r="0.8" fill="#2e56a0"/><circle cx="304.5" cy="138.73" r="0.8" fill="#b3123a"/><circle cx="306.2" cy="138.11" r="0.8" fill="#b3123a"/><circle cx="307.89" cy="137.49" r="0.8" fill="#b3123a"/>
<path d="M216.5 118.6 Q196.5 182 140.25 210.8" fill="none" stroke="#5aa02c" stroke-width="1.15"/>
<path d="M218.3 118.8 Q198.5 180 140.6 211.2" fill="none" stroke="#5aa02c" stroke-width="1.15"/>
<path d="M220.6 120.2 Q203 170 144.4 217.5" fill="none" stroke="#5aa02c" stroke-width="1.15"/>
<path d="M131.7 166.5 Q195.5 178.4 138.5 207.5" fill="none" stroke="#e8a030" stroke-width="1.15"/>
<path d="M133.1 195.6 Q195.5 178.4 252.9 208.3" fill="none" stroke="#e8a030" stroke-width="1.15"/>
<path d="M258.3 167.9 Q195.5 178.4 223.3 236" fill="none" stroke="#7ab4e4" stroke-width="1.15"/>
<circle cx="195.5" cy="178.4" r="66.8" fill="none" stroke="#555" stroke-width="0.3"/>
<text x="7.80" y="16.80" font-size="12.80" font-weight="bold" textLength="9.20" lengthAdjust="spacingAndGlyphs">A</text>
<text x="8.10" y="353.20" font-size="12.40" font-weight="bold" textLength="7.50" lengthAdjust="spacingAndGlyphs">B</text>
<text x="191.90" y="353.60" font-size="12.40" font-weight="bold" textLength="8.30" lengthAdjust="spacingAndGlyphs">C</text>
<text x="8.10" y="455.30" font-size="12.40" font-weight="bold" textLength="8.60" lengthAdjust="spacingAndGlyphs">D</text>
<text x="8.30" y="566.80" font-size="12.40" font-weight="bold" textLength="6.70" lengthAdjust="spacingAndGlyphs">E</text>
<text x="265.00" y="566.80" font-size="12.40" font-weight="bold" textLength="6.30" lengthAdjust="spacingAndGlyphs">F</text>
<rect x="53.50" y="370.60" width="111.70" height="10.10" fill="#a3002a"/>
<line x1="50.00" y1="375.65" x2="53.50" y2="375.65" stroke="#231f20" stroke-width="0.80" />
<text x="46.00" y="378.05" font-size="6.70" fill="#333" stroke="#333" stroke-width="0.15" text-anchor="end" textLength="15.90" lengthAdjust="spacingAndGlyphs">ABL1</text>
<rect x="53.50" y="383.60" width="92.90" height="10.10" fill="#a3002a"/>
<line x1="50.00" y1="388.65" x2="53.50" y2="388.65" stroke="#231f20" stroke-width="0.80" />
<text x="46.00" y="391.05" font-size="6.70" fill="#333" stroke="#333" stroke-width="0.15" text-anchor="end" textLength="22.20" lengthAdjust="spacingAndGlyphs">RUNX1</text>
<rect x="53.50" y="396.50" width="40.90" height="10.10" fill="#a3002a"/>
<line x1="50.00" y1="401.55" x2="53.50" y2="401.55" stroke="#231f20" stroke-width="0.80" />
<text x="46.00" y="403.95" font-size="6.70" fill="#333" stroke="#333" stroke-width="0.15" text-anchor="end" textLength="16.90" lengthAdjust="spacingAndGlyphs">IKZF1</text>
<line x1="53.50" y1="367.50" x2="53.50" y2="410.90" stroke="#231f20" stroke-width="1.00" />
<line x1="53.00" y1="410.50" x2="174.60" y2="410.50" stroke="#231f20" stroke-width="1.00" />
<line x1="53.50" y1="410.50" x2="53.50" y2="413.70" stroke="#231f20" stroke-width="1.00" />
<text x="53.50" y="423.10" font-size="7.00" fill="#333" stroke="#333" stroke-width="0.05" text-anchor="middle">0</text>
<line x1="81.00" y1="410.50" x2="81.00" y2="413.70" stroke="#231f20" stroke-width="1.00" />
<text x="81.00" y="423.10" font-size="7.00" fill="#333" stroke="#333" stroke-width="0.05" text-anchor="middle">1</text>
<line x1="108.40" y1="410.50" x2="108.40" y2="413.70" stroke="#231f20" stroke-width="1.00" />
<text x="108.40" y="423.10" font-size="7.00" fill="#333" stroke="#333" stroke-width="0.05" text-anchor="middle">2</text>
<line x1="135.30" y1="410.50" x2="135.30" y2="413.70" stroke="#231f20" stroke-width="1.00" />
<text x="135.30" y="423.10" font-size="7.00" fill="#333" stroke="#333" stroke-width="0.05" text-anchor="middle">3</text>
<line x1="162.50" y1="410.50" x2="162.50" y2="413.70" stroke="#231f20" stroke-width="1.00" />
<text x="162.50" y="423.10" font-size="7.00" fill="#333" stroke="#333" stroke-width="0.05" text-anchor="middle">4</text>
<text x="84.90" y="361.30" font-size="9.00" fill="#222" textLength="58.60" lengthAdjust="spacingAndGlyphs">SNVs &amp; indels</text>
<text x="94.70" y="434.20" font-size="9.00" fill="#333" textLength="40.00" lengthAdjust="spacingAndGlyphs">-log10(pval)</text>
<rect x="237.20" y="370.60" width="33.70" height="10.10" fill="#a3002a"/>
<line x1="233.70" y1="375.65" x2="237.20" y2="375.65" stroke="#231f20" stroke-width="0.80" />
<text x="229.60" y="378.05" font-size="6.70" fill="#333" stroke="#333" stroke-width="0.15" text-anchor="end" textLength="15.20" lengthAdjust="spacingAndGlyphs">4p11</text>
<rect x="237.20" y="383.60" width="31.10" height="10.10" fill="#a3002a"/>
<line x1="233.70" y1="388.65" x2="237.20" y2="388.65" stroke="#231f20" stroke-width="0.80" />
<text x="229.60" y="391.05" font-size="6.70" fill="#333" stroke="#333" stroke-width="0.15" text-anchor="end" textLength="28.60" lengthAdjust="spacingAndGlyphs">22q11.21</text>
<rect x="237.20" y="396.50" width="22.00" height="10.10" fill="#a3002a"/>
<line x1="233.70" y1="401.55" x2="237.20" y2="401.55" stroke="#231f20" stroke-width="0.80" />
<text x="229.60" y="403.95" font-size="6.70" fill="#333" stroke="#333" stroke-width="0.15" text-anchor="end" textLength="20.70" lengthAdjust="spacingAndGlyphs">8q11.1</text>
<line x1="237.20" y1="367.50" x2="237.20" y2="410.90" stroke="#231f20" stroke-width="1.00" />
<line x1="236.70" y1="410.50" x2="348.00" y2="410.50" stroke="#231f20" stroke-width="1.00" />
<line x1="237.20" y1="410.50" x2="237.20" y2="413.70" stroke="#231f20" stroke-width="1.00" />
<text x="237.20" y="423.10" font-size="7.00" fill="#333" stroke="#333" stroke-width="0.05" text-anchor="middle">0</text>
<line x1="320.90" y1="410.50" x2="320.90" y2="413.70" stroke="#231f20" stroke-width="1.00" />
<text x="320.90" y="423.10" font-size="7.00" fill="#333" stroke="#333" stroke-width="0.05" text-anchor="middle">2.5</text>
<text x="280.60" y="361.30" font-size="9.00" fill="#222" textLength="23.50" lengthAdjust="spacingAndGlyphs">Gains</text>
<text x="273.60" y="377.60" font-size="6.70" fill="#333" stroke="#333" stroke-width="0.15" textLength="29.00" lengthAdjust="spacingAndGlyphs">[CWH43]</text>
<text x="271.50" y="390.90" font-size="6.70" fill="#333" stroke="#333" stroke-width="0.15" textLength="27.50" lengthAdjust="spacingAndGlyphs">[DGCR6]</text>
<text x="262.00" y="403.60" font-size="6.70" fill="#333" stroke="#333" stroke-width="0.15" textLength="26.90" lengthAdjust="spacingAndGlyphs">[POTEA]</text>
<rect x="53.50" y="473.40" width="117.30" height="8.80" fill="#2e4b7a"/>
<line x1="50.00" y1="477.80" x2="53.50" y2="477.80" stroke="#231f20" stroke-width="0.80" />
<text x="46.70" y="480.20" font-size="6.70" fill="#333" stroke="#333" stroke-width="0.15" text-anchor="end" textLength="21.50" lengthAdjust="spacingAndGlyphs">7p14.1</text>
<rect x="53.50" y="485.30" width="60.00" height="8.90" fill="#2e4b7a"/>
<line x1="50.00" y1="489.75" x2="53.50" y2="489.75" stroke="#231f20" stroke-width="0.80" />
<text x="46.70" y="492.15" font-size="6.70" fill="#333" stroke="#333" stroke-width="0.15" text-anchor="end" textLength="28.50" lengthAdjust="spacingAndGlyphs">14q32.33</text>
<rect x="53.50" y="497.00" width="23.50" height="9.00" fill="#2e4b7a"/>
<line x1="50.00" y1="501.50" x2="53.50" y2="501.50" stroke="#231f20" stroke-width="0.80" />
<text x="46.70" y="503.90" font-size="6.70" fill="#333" stroke="#333" stroke-width="0.15" text-anchor="end" textLength="15.20" lengthAdjust="spacingAndGlyphs">7q34</text>
<rect x="53.50" y="508.90" width="8.80" height="8.90" fill="#2e4b7a"/>
<line x1="50.00" y1="513.35" x2="53.50" y2="513.35" stroke="#231f20" stroke-width="0.80" />
<text x="46.70" y="515.75" font-size="6.70" fill="#333" stroke="#333" stroke-width="0.15" text-anchor="end" textLength="21.50" lengthAdjust="spacingAndGlyphs">9p21.3</text>
<line x1="53.50" y1="470.00" x2="53.50" y2="522.40" stroke="#231f20" stroke-width="1.00" />
<line x1="53.00" y1="522.00" x2="192.30" y2="522.00" stroke="#231f20" stroke-width="1.00" />
<line x1="53.50" y1="522.00" x2="53.50" y2="525.20" stroke="#231f20" stroke-width="1.00" />
<text x="53.50" y="534.60" font-size="7.00" fill="#333" stroke="#333" stroke-width="0.05" text-anchor="middle">0</text>
<line x1="87.70" y1="522.00" x2="87.70" y2="525.20" stroke="#231f20" stroke-width="1.00" />
<text x="87.70" y="534.60" font-size="7.00" fill="#333" stroke="#333" stroke-width="0.05" text-anchor="middle">5</text>
<line x1="121.50" y1="522.00" x2="121.50" y2="525.20" stroke="#231f20" stroke-width="1.00" />
<text x="121.50" y="534.60" font-size="7.00" fill="#333" stroke="#333" stroke-width="0.05" text-anchor="middle">10</text>
<line x1="155.40" y1="522.00" x2="155.40" y2="525.20" stroke="#231f20" stroke-width="1.00" />
<text x="155.40" y="534.60" font-size="7.00" fill="#333" stroke="#333" stroke-width="0.05" text-anchor="middle">15</text>
<line x1="189.20" y1="522.00" x2="189.20" y2="525.20" stroke="#231f20" stroke-width="1.00" />
<text x="189.20" y="534.60" font-size="7.00" fill="#333" stroke="#333" stroke-width="0.05" text-anchor="middle">20</text>
<text x="103.50" y="464.10" font-size="9.00" fill="#222" textLength="39.00" lengthAdjust="spacingAndGlyphs">Deletions</text>
<text x="103.00" y="547.30" font-size="9.00" fill="#333" textLength="40.00" lengthAdjust="spacingAndGlyphs">-log10(qval)</text>
<text x="174.60" y="480.30" font-size="6.70" fill="#333" stroke="#333" stroke-width="0.15" textLength="105.40" lengthAdjust="spacingAndGlyphs">SFRP4, EPDR1, STARD3NL, TARP</text>
<text x="116.50" y="491.60" font-size="6.70" fill="#333" stroke="#333" stroke-width="0.15" textLength="89.50" lengthAdjust="spacingAndGlyphs">ELK2AP, ADAM6, KIAA0125</text>
<text x="80.20" y="504.00" font-size="6.70" fill="#333" stroke="#333" stroke-width="0.15" textLength="248.80" lengthAdjust="spacingAndGlyphs">EPHB6, PRSS1, PRSS2, MGAM, TRPV6, LOC93432, PRSS58, TRY6, LOC730441,</text>
<text x="208.00" y="512.60" font-size="6.70" fill="#333" stroke="#333" stroke-width="0.15" textLength="122.00" lengthAdjust="spacingAndGlyphs">LOC100124692, MOXD2P, MTRNR2L6</text>
<text x="65.80" y="516.30" font-size="6.70" fill="#333" stroke="#333" stroke-width="0.15" textLength="107.20" lengthAdjust="spacingAndGlyphs">CDKN2A,CDKN2B,MTAP,C9orf53</text>
<line x1="45.60" y1="646.30" x2="257.50" y2="646.30" stroke="#c0284f" stroke-width="1.15" stroke-dasharray="3.4 2.6" stroke-dashoffset="-2"/>
<line x1="176.75" y1="581.60" x2="176.75" y2="726.30" stroke="#c0284f" stroke-width="1.15" stroke-dasharray="3.4 2.6" stroke-dashoffset="-2"/>
<rect x="45.60" y="581.60" width="211.90" height="144.70" fill="none" stroke="#111" stroke-width="1.2"/>
<line x1="42.30" y1="584.50" x2="45.60" y2="584.50" stroke="#231f20" stroke-width="1.00" />
<text x="38.70" y="586.90" font-size="6.80" fill="#333" stroke="#333" stroke-width="0.05" text-anchor="end">1.5</text>
<line x1="42.30" y1="621.50" x2="45.60" y2="621.50" stroke="#231f20" stroke-width="1.00" />
<text x="38.70" y="623.90" font-size="6.80" fill="#333" stroke="#333" stroke-width="0.05" text-anchor="end">1.2</text>
<line x1="42.30" y1="658.50" x2="45.60" y2="658.50" stroke="#231f20" stroke-width="1.00" />
<text x="38.70" y="660.90" font-size="6.80" fill="#333" stroke="#333" stroke-width="0.05" text-anchor="end">0.9</text>
<line x1="42.30" y1="695.50" x2="45.60" y2="695.50" stroke="#231f20" stroke-width="1.00" />
<text x="38.70" y="697.90" font-size="6.80" fill="#333" stroke="#333" stroke-width="0.05" text-anchor="end">0.6</text>
<line x1="53.60" y1="726.30" x2="53.60" y2="729.60" stroke="#231f20" stroke-width="1.00" />
<text x="53.60" y="738.90" font-size="6.80" fill="#333" stroke="#333" stroke-width="0.05" text-anchor="middle">0.0</text>
<line x1="100.83" y1="726.30" x2="100.83" y2="729.60" stroke="#231f20" stroke-width="1.00" />
<text x="100.83" y="738.90" font-size="6.80" fill="#333" stroke="#333" stroke-width="0.05" text-anchor="middle">0.5</text>
<line x1="148.05" y1="726.30" x2="148.05" y2="729.60" stroke="#231f20" stroke-width="1.00" />
<text x="148.05" y="738.90" font-size="6.80" fill="#333" stroke="#333" stroke-width="0.05" text-anchor="middle">1.0</text>
<line x1="195.28" y1="726.30" x2="195.28" y2="729.60" stroke="#231f20" stroke-width="1.00" />
<text x="195.28" y="738.90" font-size="6.80" fill="#333" stroke="#333" stroke-width="0.05" text-anchor="middle">1.5</text>
<line x1="242.50" y1="726.30" x2="242.50" y2="729.60" stroke="#231f20" stroke-width="1.00" />
<text x="242.50" y="738.90" font-size="6.80" fill="#333" stroke="#333" stroke-width="0.05" text-anchor="middle">2.0</text>
<text x="140.80" y="574.60" font-size="8.80" fill="#222" textLength="21.10" lengthAdjust="spacingAndGlyphs">WGS</text>
<text x="100.50" y="752.20" font-size="8.60" fill="#333" textLength="102.00" lengthAdjust="spacingAndGlyphs">-1*log10(BH corrected p-value)</text>
<text transform="translate(24.2 673) rotate(-90)" font-size="9" fill="#333" textLength="38.3" lengthAdjust="spacingAndGlyphs">Enrichment</text>
<circle cx="184.25" cy="588.50" r="1.55" fill="#a3002a"/>
<circle cx="248.00" cy="596.25" r="1.55" fill="#a3002a"/>
<circle cx="115.00" cy="609.25" r="1.55" fill="#a3002a"/>
<circle cx="64.50" cy="621.25" r="1.55" fill="#a3002a"/>
<circle cx="73.75" cy="623.25" r="1.55" fill="#a3002a"/>
<circle cx="113.75" cy="635.00" r="1.55" fill="#a3002a"/>
<circle cx="73.75" cy="638.75" r="1.55" fill="#a3002a"/>
<circle cx="57.00" cy="646.25" r="1.55" fill="#a3002a"/>
<circle cx="56.50" cy="649.50" r="1.55" fill="#a3002a"/>
<circle cx="55.00" cy="673.75" r="1.55" fill="#a3002a"/>
<circle cx="55.00" cy="680.00" r="1.55" fill="#a3002a"/>
<circle cx="55.00" cy="713.75" r="1.55" fill="#a3002a"/>
<circle cx="55.00" cy="720.00" r="1.55" fill="#a3002a"/>
<text x="187.50" y="591.10" font-size="7.30" fill="#333" stroke="#333" stroke-width="0.15" textLength="13.00" lengthAdjust="spacingAndGlyphs">PRC</text>
<text x="199.50" y="605.85" font-size="7.30" fill="#333" stroke="#333" stroke-width="0.15" textLength="44.25" lengthAdjust="spacingAndGlyphs">HSC signature</text>
<text x="108.00" y="616.35" font-size="7.30" fill="#333" stroke="#333" stroke-width="0.15" textLength="15.75" lengthAdjust="spacingAndGlyphs">TrxG</text>
<text x="55.00" y="618.85" font-size="7.30" fill="#333" stroke="#333" stroke-width="0.15" textLength="27.00" lengthAdjust="spacingAndGlyphs">PR-DUB</text>
<text x="65.75" y="630.60" font-size="7.30" fill="#333" stroke="#333" stroke-width="0.15" textLength="33.00" lengthAdjust="spacingAndGlyphs">Hedgehog</text>
<text x="113.75" y="632.60" font-size="7.30" fill="#333" stroke="#333" stroke-width="0.15" textLength="23.25" lengthAdjust="spacingAndGlyphs">Kinome</text>
<text x="75.00" y="641.35" font-size="7.30" fill="#333" stroke="#333" stroke-width="0.15" textLength="16.25" lengthAdjust="spacingAndGlyphs">WNT</text>
<text x="47.00" y="643.85" font-size="7.30" fill="#333" stroke="#333" stroke-width="0.15" textLength="18.75" lengthAdjust="spacingAndGlyphs">Notch</text>
<text x="61.75" y="652.60" font-size="7.30" fill="#333" stroke="#333" stroke-width="0.15" textLength="43.25" lengthAdjust="spacingAndGlyphs">ESC signature</text>
<text x="50.00" y="659.35" font-size="7.30" fill="#333" stroke="#333" stroke-width="0.15" textLength="29.25" lengthAdjust="spacingAndGlyphs">TGF beta</text>
<text x="60.00" y="675.10" font-size="7.30" fill="#333" stroke="#333" stroke-width="0.15" textLength="18.75" lengthAdjust="spacingAndGlyphs">NuRD</text>
<text x="57.50" y="685.10" font-size="7.30" fill="#333" stroke="#333" stroke-width="0.15" textLength="19.50" lengthAdjust="spacingAndGlyphs">Hippo</text>
<text x="58.25" y="712.60" font-size="7.30" fill="#333" stroke="#333" stroke-width="0.15" textLength="25.00" lengthAdjust="spacingAndGlyphs">CoREST</text>
<text x="58.25" y="722.60" font-size="7.30" fill="#333" stroke="#333" stroke-width="0.15" textLength="14.75" lengthAdjust="spacingAndGlyphs">SIN3</text>
<text x="194.50" y="654.15" font-size="7.30" fill="#c0284f" stroke="#c0284f" stroke-width="0.15" textLength="47.50" lengthAdjust="spacingAndGlyphs">enrichment = 1</text>
<text x="181.25" y="719.90" font-size="7.30" fill="#c0284f" stroke="#c0284f" stroke-width="0.15" textLength="45.00" lengthAdjust="spacingAndGlyphs">p-value = 0.05</text>
<line x1="296.40" y1="688.50" x2="510.00" y2="688.50" stroke="#c0284f" stroke-width="1.15" stroke-dasharray="3.4 2.6" stroke-dashoffset="-2"/>
<line x1="319.00" y1="580.50" x2="319.00" y2="726.20" stroke="#c0284f" stroke-width="1.15" stroke-dasharray="3.4 2.6" stroke-dashoffset="-2"/>
<rect x="296.40" y="580.50" width="216.10" height="145.70" fill="none" stroke="#111" stroke-width="1.2"/>
<line x1="293.10" y1="608.25" x2="296.40" y2="608.25" stroke="#231f20" stroke-width="1.00" />
<text x="289.40" y="610.65" font-size="6.80" fill="#333" stroke="#333" stroke-width="0.05" text-anchor="end">3</text>
<line x1="293.10" y1="648.25" x2="296.40" y2="648.25" stroke="#231f20" stroke-width="1.00" />
<text x="289.40" y="650.65" font-size="6.80" fill="#333" stroke="#333" stroke-width="0.05" text-anchor="end">2</text>
<line x1="306.00" y1="726.20" x2="306.00" y2="729.50" stroke="#231f20" stroke-width="1.00" />
<text x="306.00" y="738.80" font-size="6.80" fill="#333" stroke="#333" stroke-width="0.05" text-anchor="middle">0</text>
<line x1="355.30" y1="726.20" x2="355.30" y2="729.50" stroke="#231f20" stroke-width="1.00" />
<text x="355.30" y="738.80" font-size="6.80" fill="#333" stroke="#333" stroke-width="0.05" text-anchor="middle">5</text>
<line x1="404.60" y1="726.20" x2="404.60" y2="729.50" stroke="#231f20" stroke-width="1.00" />
<text x="404.60" y="738.80" font-size="6.80" fill="#333" stroke="#333" stroke-width="0.05" text-anchor="middle">10</text>
<line x1="453.90" y1="726.20" x2="453.90" y2="729.50" stroke="#231f20" stroke-width="1.00" />
<text x="453.90" y="738.80" font-size="6.80" fill="#333" stroke="#333" stroke-width="0.05" text-anchor="middle">15</text>
<line x1="503.20" y1="726.20" x2="503.20" y2="729.50" stroke="#231f20" stroke-width="1.00" />
<text x="503.20" y="738.80" font-size="6.80" fill="#333" stroke="#333" stroke-width="0.05" text-anchor="middle">20</text>
<text x="394.20" y="574.60" font-size="8.80" fill="#222" textLength="19.60" lengthAdjust="spacingAndGlyphs">WES</text>
<text x="353.00" y="752.20" font-size="8.60" fill="#333" textLength="102.50" lengthAdjust="spacingAndGlyphs">-1*log10(BH corrected p-value)</text>
<text transform="translate(280.8 672) rotate(-90)" font-size="9" fill="#333" textLength="37.2" lengthAdjust="spacingAndGlyphs">Enrichment</text>
<circle cx="502.50" cy="587.00" r="1.55" fill="#a3002a"/>
<circle cx="358.25" cy="663.75" r="1.55" fill="#a3002a"/>
<circle cx="317.50" cy="681.25" r="1.55" fill="#a3002a"/>
<circle cx="315.50" cy="685.50" r="1.55" fill="#a3002a"/>
<circle cx="305.75" cy="685.00" r="1.55" fill="#a3002a"/>
<circle cx="305.75" cy="690.00" r="1.55" fill="#a3002a"/>
<circle cx="305.75" cy="694.50" r="1.55" fill="#a3002a"/>
<circle cx="305.75" cy="697.00" r="1.55" fill="#a3002a"/>
<circle cx="305.75" cy="713.25" r="1.55" fill="#a3002a"/>
<circle cx="305.75" cy="720.00" r="1.55" fill="#a3002a"/>
<text x="490.00" y="596.85" font-size="7.30" fill="#333" stroke="#333" stroke-width="0.15" textLength="13.00" lengthAdjust="spacingAndGlyphs">PRC</text>
<text x="358.75" y="658.85" font-size="7.30" fill="#333" stroke="#333" stroke-width="0.15" textLength="15.00" lengthAdjust="spacingAndGlyphs">TrxG</text>
<text x="287.00" y="663.85" font-size="7.30" fill="#333" stroke="#333" stroke-width="0.15" textLength="26.75" lengthAdjust="spacingAndGlyphs">PR-DUB</text>
<text x="314.50" y="676.85" font-size="7.30" fill="#333" stroke="#333" stroke-width="0.15" textLength="46.75" lengthAdjust="spacingAndGlyphs">HSC  signature</text>
<text x="280.00" y="681.35" font-size="7.30" fill="#333" stroke="#333" stroke-width="0.15" textLength="33.25" lengthAdjust="spacingAndGlyphs">Hedgehog</text>
<text x="286.25" y="688.10" font-size="7.30" fill="#333" stroke="#333" stroke-width="0.15" textLength="19.00" lengthAdjust="spacingAndGlyphs">Notch</text>
<text x="320.75" y="687.60" font-size="7.30" fill="#333" stroke="#333" stroke-width="0.15" textLength="23.75" lengthAdjust="spacingAndGlyphs">Kinome</text>
<text x="283.75" y="694.35" font-size="7.30" fill="#333" stroke="#333" stroke-width="0.15" textLength="18.50" lengthAdjust="spacingAndGlyphs">NuRD</text>
<text x="308.75" y="692.60" font-size="7.30" fill="#333" stroke="#333" stroke-width="0.15" textLength="15.00" lengthAdjust="spacingAndGlyphs">WNT</text>
<text x="308.75" y="699.35" font-size="7.30" fill="#333" stroke="#333" stroke-width="0.15" textLength="44.25" lengthAdjust="spacingAndGlyphs">ESC signature</text>
<text x="275.50" y="706.35" font-size="7.30" fill="#333" stroke="#333" stroke-width="0.15" textLength="29.50" lengthAdjust="spacingAndGlyphs">TGF beta</text>
<text x="309.50" y="706.35" font-size="7.30" fill="#333" stroke="#333" stroke-width="0.15" textLength="19.25" lengthAdjust="spacingAndGlyphs">Hippo</text>
<text x="308.75" y="715.85" font-size="7.30" fill="#333" stroke="#333" stroke-width="0.15" textLength="15.00" lengthAdjust="spacingAndGlyphs">SIN3</text>
<text x="309.50" y="723.35" font-size="7.30" fill="#333" stroke="#333" stroke-width="0.15" textLength="25.50" lengthAdjust="spacingAndGlyphs">CoREST</text>
<line x1="301.00" y1="665.50" x2="308.75" y2="703.50" stroke="#231f20" stroke-width="0.60" />
<text x="325.00" y="613.65" font-size="7.30" fill="#c0284f" stroke="#c0284f" stroke-width="0.15" textLength="44.50" lengthAdjust="spacingAndGlyphs">p value = 0.05</text>
<text x="386.00" y="696.15" font-size="7.30" fill="#c0284f" stroke="#c0284f" stroke-width="0.15" textLength="47.25" lengthAdjust="spacingAndGlyphs">enrichment = 1</text>
<text x="44.80" y="23.80" font-size="7.80" font-weight="bold" textLength="25.00" lengthAdjust="spacingAndGlyphs">SCNAs:</text>
<text x="45.30" y="32.10" font-size="7.80" fill="#b5284a" stroke="#b5284a" stroke-width="0.15" textLength="11.70" lengthAdjust="spacingAndGlyphs">red,</text>
<text x="59.20" y="32.10" font-size="7.80" fill="#333" stroke="#333" stroke-width="0.15" textLength="12.80" lengthAdjust="spacingAndGlyphs">gain</text>
<text x="45.30" y="40.40" font-size="7.80" fill="#3f5fa0" stroke="#3f5fa0" stroke-width="0.15" textLength="13.10" lengthAdjust="spacingAndGlyphs">blue,</text>
<text x="62.80" y="40.40" font-size="7.80" fill="#333" stroke="#333" stroke-width="0.15" textLength="11.00" lengthAdjust="spacingAndGlyphs">loss</text>
<text x="44.80" y="48.70" font-size="7.80" fill="#333" stroke="#333" stroke-width="0.15" textLength="48.10" lengthAdjust="spacingAndGlyphs">black, inversion</text>
<text x="51.50" y="57.00" font-size="7.80" fill="#333" stroke="#333" stroke-width="0.15" textLength="35.00" lengthAdjust="spacingAndGlyphs">or complex</text>
<line x1="89.00" y1="39.20" x2="152.30" y2="67.70" stroke="#231f20" stroke-width="0.80" />
<text x="26.20" y="74.50" font-size="7.80" font-weight="bold" textLength="48.40" lengthAdjust="spacingAndGlyphs">SNVs &amp; indels:</text>
<text x="26.20" y="82.80" font-size="7.80" fill="#b5284a" stroke="#b5284a" stroke-width="0.15" textLength="11.00" lengthAdjust="spacingAndGlyphs">red</text>
<text x="37.20" y="82.80" font-size="7.80" fill="#333" stroke="#333" stroke-width="0.15">,</text>
<text x="41.00" y="82.80" font-size="7.80" fill="#333" stroke="#333" stroke-width="0.15" textLength="30.00" lengthAdjust="spacingAndGlyphs">non-silent</text>
<line x1="75.00" y1="79.20" x2="139.40" y2="111.40" stroke="#231f20" stroke-width="0.80" />
<text x="42.30" y="99.50" font-size="7.80" fill="#555" stroke="#555" stroke-width="0.15" font-style="italic" textLength="15.70" lengthAdjust="spacingAndGlyphs">ABL1</text>
<text x="35.00" y="117.40" font-size="7.80" fill="#555" stroke="#555" stroke-width="0.15" font-style="italic" textLength="17.00" lengthAdjust="spacingAndGlyphs">PAX5</text>
<text x="16.00" y="136.60" font-size="7.80" fill="#555" stroke="#555" stroke-width="0.15" font-style="italic" textLength="28.60" lengthAdjust="spacingAndGlyphs">CDKN2A</text>
<text x="16.00" y="145.60" font-size="7.80" fill="#555" stroke="#555" stroke-width="0.15" font-style="italic" textLength="28.60" lengthAdjust="spacingAndGlyphs">CDKN2B</text>
<text x="24.60" y="233.40" font-size="7.80" fill="#555" stroke="#555" stroke-width="0.15" font-style="italic" textLength="16.70" lengthAdjust="spacingAndGlyphs">EZH2</text>
<text x="37.50" y="260.30" font-size="7.80" fill="#555" stroke="#555" stroke-width="0.15" font-style="italic" textLength="17.90" lengthAdjust="spacingAndGlyphs">IKZF1</text>
<text x="349.10" y="159.60" font-size="7.80" fill="#555" stroke="#555" stroke-width="0.15" font-style="italic" textLength="12.60" lengthAdjust="spacingAndGlyphs">BCR</text>
<text x="321.90" y="272.60" font-size="7.80" fill="#555" stroke="#555" stroke-width="0.15" font-style="italic" textLength="45.10" lengthAdjust="spacingAndGlyphs">Ig kappa chain</text>
<text x="234.80" y="25.60" font-size="7.80" fill="#555" stroke="#555" stroke-width="0.15" font-style="italic" textLength="86.20" lengthAdjust="spacingAndGlyphs">T cell receptor gene cluster</text>
<line x1="57.70" y1="103.30" x2="68.30" y2="117.70" stroke="#231f20" stroke-width="0.75" />
<line x1="51.00" y1="121.00" x2="57.70" y2="138.80" stroke="#231f20" stroke-width="0.75" />
<line x1="48.00" y1="142.30" x2="57.70" y2="148.50" stroke="#231f20" stroke-width="0.75" />
<line x1="42.30" y1="226.50" x2="57.70" y2="212.00" stroke="#231f20" stroke-width="0.75" />
<line x1="50.40" y1="252.00" x2="66.30" y2="233.30" stroke="#231f20" stroke-width="0.75" />
<line x1="233.50" y1="24.30" x2="209.00" y2="35.90" stroke="#231f20" stroke-width="0.75" />
<line x1="286.00" y1="45.00" x2="260.40" y2="51.70" stroke="#231f20" stroke-width="0.75" />
<line x1="347.50" y1="157.50" x2="335.70" y2="165.80" stroke="#231f20" stroke-width="0.75" />
<line x1="320.00" y1="270.70" x2="306.30" y2="268.50" stroke="#231f20" stroke-width="0.75" />
<line x1="298.80" y1="294.80" x2="233.80" y2="199.00" stroke="#231f20" stroke-width="0.85" />
<text x="288.70" y="42.30" font-size="7.80" font-weight="bold" textLength="43.80" lengthAdjust="spacingAndGlyphs">Chromosome</text>
<text x="288.70" y="50.60" font-size="7.80" font-weight="bold" textLength="31.30" lengthAdjust="spacingAndGlyphs">ideogram</text>
<text x="300.40" y="298.80" font-size="7.80" font-weight="bold" textLength="48.80" lengthAdjust="spacingAndGlyphs">Translocations:</text>
<text x="300.50" y="306.30" font-size="7.80" fill="#72b35c" stroke="#72b35c" stroke-width="0.15" textLength="39.00" lengthAdjust="spacingAndGlyphs">bright green</text>
<text x="339.80" y="306.30" font-size="7.80" fill="#333" stroke="#333" stroke-width="0.15">,</text>
<text x="343.60" y="306.30" font-size="7.80" fill="#333" stroke="#333" stroke-width="0.15" textLength="11.70" lengthAdjust="spacingAndGlyphs">P12</text>
<text x="300.50" y="315.00" font-size="7.80" fill="#e89a48" stroke="#e89a48" stroke-width="0.15" textLength="21.10" lengthAdjust="spacingAndGlyphs">orange</text>
<text x="321.90" y="315.00" font-size="7.80" fill="#333" stroke="#333" stroke-width="0.15">,</text>
<text x="326.80" y="315.00" font-size="7.80" fill="#333" stroke="#333" stroke-width="0.15" textLength="11.00" lengthAdjust="spacingAndGlyphs">P03</text>
<text x="300.50" y="322.70" font-size="7.80" fill="#7fb2e5" stroke="#7fb2e5" stroke-width="0.15" textLength="35.50" lengthAdjust="spacingAndGlyphs">aquamarine</text>
<text x="336.30" y="322.70" font-size="7.80" fill="#333" stroke="#333" stroke-width="0.15">,</text>
<text x="341.30" y="322.70" font-size="7.80" fill="#333" stroke="#333" stroke-width="0.15" textLength="10.90" lengthAdjust="spacingAndGlyphs">P08</text>
<text x="21.25" y="293.10" font-size="7.80" fill="#333" stroke="#333" stroke-width="0.15" textLength="59.25" lengthAdjust="spacingAndGlyphs">Sample order from</text>
<text x="21.25" y="300.90" font-size="7.80" fill="#333" stroke="#333" stroke-width="0.15" textLength="62.50" lengthAdjust="spacingAndGlyphs">inside to outside for</text>
<text x="21.25" y="308.90" font-size="7.80" fill="#333" stroke="#333" stroke-width="0.15" textLength="77.50" lengthAdjust="spacingAndGlyphs">SNVs/indels and SCNAs:</text>
<text x="21.25" y="317.60" font-size="7.80" fill="#333" stroke="#333" stroke-width="0.15" textLength="73.75" lengthAdjust="spacingAndGlyphs">LBC: P12, P13, P01, P02,</text>
<text x="38.75" y="326.40" font-size="7.80" fill="#333" stroke="#333" stroke-width="0.15" textLength="76.25" lengthAdjust="spacingAndGlyphs">P03, P04, P05, P06, P07,</text>
<text x="21.25" y="334.60" font-size="7.80" fill="#333" stroke="#333" stroke-width="0.15" textLength="78.75" lengthAdjust="spacingAndGlyphs">MBC: P08, P09, P10, P11</text>
<rect x="0.55" y="0.55" width="518.9" height="760.9" fill="none" stroke="#000" stroke-width="1.1"/>
</svg>
</body></html>
